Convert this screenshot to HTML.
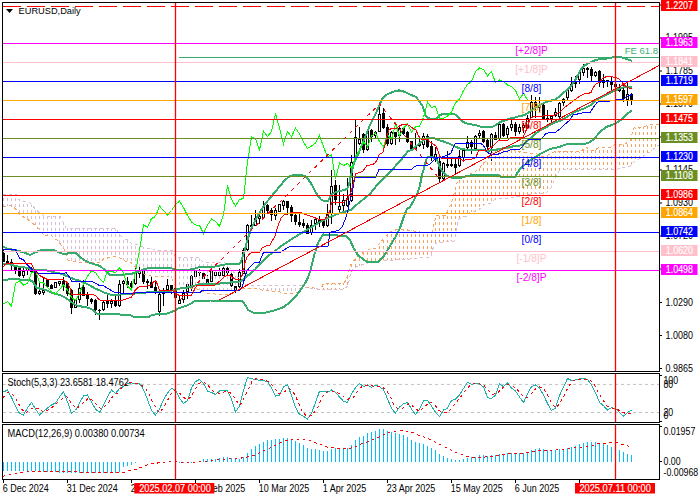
<!DOCTYPE html><html><head><meta charset="utf-8"><title>EURUSD Daily</title><style>html,body{margin:0;padding:0;background:#fff;overflow:hidden}svg{display:block}</style></head><body><svg width="700" height="500" viewBox="0 0 700 500">
<rect width="700" height="500" fill="#fff"/>
<defs><clipPath id="cm"><rect x="3" y="3" width="656" height="368"/></clipPath><clipPath id="cs"><rect x="3" y="374" width="656" height="48.5"/></clipPath><clipPath id="cd"><rect x="3" y="425" width="656" height="54"/></clipPath></defs>
<g clip-path="url(#cm)">
<g shape-rendering="crispEdges"><line x1="3.5" x2="3.5" y1="250" y2="262" stroke="#000" stroke-width="1"/><rect x="2.0" y="253" width="3" height="8.5" fill="#000"/><line x1="7.5" x2="7.5" y1="255" y2="263.5" stroke="#000" stroke-width="1"/><rect x="6.0" y="261" width="3" height="1.5" fill="#000"/><line x1="11.5" x2="11.5" y1="259" y2="270" stroke="#000" stroke-width="1"/><rect x="10.0" y="261.5" width="3" height="3.5" fill="#000"/><line x1="15.5" x2="15.5" y1="266" y2="273.5" stroke="#000" stroke-width="1"/><rect x="14.0" y="266" width="3" height="5" fill="#000"/><line x1="19.5" x2="19.5" y1="267" y2="277" stroke="#000" stroke-width="1"/><rect x="18.0" y="267" width="3" height="9" fill="#000"/><line x1="23.5" x2="23.5" y1="268" y2="277.5" stroke="#000" stroke-width="1"/><rect x="22.5" y="271.5" width="2" height="4" fill="#fff" stroke="#000" stroke-width="1"/><line x1="27.5" x2="27.5" y1="268" y2="275" stroke="#000" stroke-width="1"/><rect x="26.5" y="268.5" width="2" height="2" fill="#fff" stroke="#000" stroke-width="1"/><line x1="31.5" x2="31.5" y1="267" y2="273" stroke="#000" stroke-width="1"/><rect x="30.0" y="268" width="3" height="4" fill="#000"/><line x1="35.5" x2="35.5" y1="269" y2="295" stroke="#000" stroke-width="1"/><rect x="34.0" y="270" width="3" height="24" fill="#000"/><line x1="39.5" x2="39.5" y1="282" y2="294.5" stroke="#000" stroke-width="1"/><rect x="38.5" y="291.5" width="2" height="2" fill="#fff" stroke="#000" stroke-width="1"/><line x1="43.5" x2="43.5" y1="278" y2="295" stroke="#000" stroke-width="1"/><rect x="42.5" y="290.5" width="2" height="2" fill="#fff" stroke="#000" stroke-width="1"/><line x1="47.5" x2="47.5" y1="279" y2="288" stroke="#000" stroke-width="1"/><rect x="46.0" y="280" width="3" height="7" fill="#000"/><line x1="51.5" x2="51.5" y1="284" y2="289" stroke="#000" stroke-width="1"/><rect x="50.0" y="284.5" width="3" height="4.0" fill="#000"/><line x1="55.5" x2="55.5" y1="281.5" y2="288" stroke="#000" stroke-width="1"/><rect x="54.5" y="282.5" width="2" height="5" fill="#fff" stroke="#000" stroke-width="1"/><line x1="59.5" x2="59.5" y1="280.5" y2="285.5" stroke="#000" stroke-width="1"/><rect x="58.5" y="281.5" width="2" height="2" fill="#fff" stroke="#000" stroke-width="1"/><line x1="63.5" x2="63.5" y1="276.5" y2="290.5" stroke="#000" stroke-width="1"/><rect x="62.0" y="280.5" width="3" height="5.5" fill="#000"/><line x1="67.5" x2="67.5" y1="282" y2="296" stroke="#000" stroke-width="1"/><rect x="66.0" y="283" width="3" height="11" fill="#000"/><line x1="71.5" x2="71.5" y1="289" y2="314" stroke="#000" stroke-width="1"/><rect x="70.0" y="290" width="3" height="17.5" fill="#000"/><line x1="75.5" x2="75.5" y1="299" y2="308" stroke="#000" stroke-width="1"/><rect x="74.5" y="300.5" width="2" height="7" fill="#fff" stroke="#000" stroke-width="1"/><line x1="79.5" x2="79.5" y1="283" y2="302.5" stroke="#000" stroke-width="1"/><rect x="78.5" y="288.5" width="2" height="11" fill="#fff" stroke="#000" stroke-width="1"/><line x1="83.5" x2="83.5" y1="280" y2="296" stroke="#000" stroke-width="1"/><rect x="82.0" y="286.5" width="3" height="9.0" fill="#000"/><line x1="87.5" x2="87.5" y1="292" y2="306" stroke="#000" stroke-width="1"/><rect x="86.0" y="295" width="3" height="4" fill="#000"/><line x1="91.5" x2="91.5" y1="298" y2="303.5" stroke="#000" stroke-width="1"/><rect x="90.0" y="298.5" width="3" height="3.0" fill="#000"/><line x1="95.5" x2="95.5" y1="299" y2="314.5" stroke="#000" stroke-width="1"/><rect x="94.0" y="300" width="3" height="10" fill="#000"/><line x1="99.5" x2="99.5" y1="309" y2="320" stroke="#000" stroke-width="1"/><rect x="98.0" y="309.5" width="3" height="1.0" fill="#000"/><line x1="103.5" x2="103.5" y1="301" y2="311" stroke="#000" stroke-width="1"/><rect x="102.5" y="302.5" width="2" height="7" fill="#fff" stroke="#000" stroke-width="1"/><line x1="107.5" x2="107.5" y1="295" y2="307.5" stroke="#000" stroke-width="1"/><rect x="106.0" y="301" width="3" height="3" fill="#000"/><line x1="111.5" x2="111.5" y1="298.5" y2="307.5" stroke="#000" stroke-width="1"/><rect x="110.5" y="301.5" width="2" height="2" fill="#fff" stroke="#000" stroke-width="1"/><line x1="115.5" x2="115.5" y1="296" y2="306.5" stroke="#000" stroke-width="1"/><rect x="114.0" y="301" width="3" height="5" fill="#000"/><line x1="119.5" x2="119.5" y1="280" y2="306.5" stroke="#000" stroke-width="1"/><rect x="118.5" y="284.5" width="2" height="21" fill="#fff" stroke="#000" stroke-width="1"/><line x1="123.5" x2="123.5" y1="280" y2="293.5" stroke="#000" stroke-width="1"/><rect x="122.5" y="281.5" width="2" height="2" fill="#fff" stroke="#000" stroke-width="1"/><line x1="127.5" x2="127.5" y1="277" y2="287.5" stroke="#000" stroke-width="1"/><rect x="126.0" y="281" width="3" height="4" fill="#000"/><line x1="131.5" x2="131.5" y1="280.5" y2="290.5" stroke="#000" stroke-width="1"/><rect x="130.0" y="283" width="3" height="3.5" fill="#000"/><line x1="135.5" x2="135.5" y1="268" y2="284.5" stroke="#000" stroke-width="1"/><rect x="134.5" y="273.5" width="2" height="10" fill="#fff" stroke="#000" stroke-width="1"/><line x1="139.5" x2="139.5" y1="265" y2="278" stroke="#000" stroke-width="1"/><rect x="138.5" y="271.5" width="2" height="2" fill="#fff" stroke="#000" stroke-width="1"/><line x1="143.5" x2="143.5" y1="270" y2="283.5" stroke="#000" stroke-width="1"/><rect x="142.0" y="271" width="3" height="11" fill="#000"/><line x1="147.5" x2="147.5" y1="279" y2="288.5" stroke="#000" stroke-width="1"/><rect x="146.0" y="281" width="3" height="2" fill="#000"/><line x1="151.5" x2="151.5" y1="275.5" y2="288" stroke="#000" stroke-width="1"/><rect x="150.0" y="282" width="3" height="5.5" fill="#000"/><line x1="155.5" x2="155.5" y1="281" y2="293.5" stroke="#000" stroke-width="1"/><rect x="154.0" y="287" width="3" height="4.5" fill="#000"/><line x1="159.5" x2="159.5" y1="293" y2="315.5" stroke="#000" stroke-width="1"/><rect x="158.5" y="294.5" width="2" height="17" fill="#fff" stroke="#000" stroke-width="1"/><line x1="163.5" x2="163.5" y1="287.5" y2="305.5" stroke="#000" stroke-width="1"/><rect x="162.5" y="290.5" width="2" height="3" fill="#fff" stroke="#000" stroke-width="1"/><line x1="167.5" x2="167.5" y1="279" y2="290" stroke="#000" stroke-width="1"/><rect x="166.5" y="285.5" width="2" height="4" fill="#fff" stroke="#000" stroke-width="1"/><line x1="171.5" x2="171.5" y1="284.5" y2="293.5" stroke="#000" stroke-width="1"/><rect x="170.0" y="285" width="3" height="5" fill="#000"/><line x1="175.5" x2="175.5" y1="287" y2="298" stroke="#000" stroke-width="1"/><rect x="174.0" y="288" width="3" height="9.5" fill="#000"/><line x1="179.5" x2="179.5" y1="295" y2="304" stroke="#000" stroke-width="1"/><rect x="178.5" y="300.5" width="2" height="3" fill="#fff" stroke="#000" stroke-width="1"/><line x1="183.5" x2="183.5" y1="290" y2="302.5" stroke="#000" stroke-width="1"/><rect x="182.5" y="293.5" width="2" height="6" fill="#fff" stroke="#000" stroke-width="1"/><line x1="187.5" x2="187.5" y1="283.5" y2="298.5" stroke="#000" stroke-width="1"/><rect x="186.5" y="284.5" width="2" height="7" fill="#fff" stroke="#000" stroke-width="1"/><line x1="191.5" x2="191.5" y1="275" y2="290.5" stroke="#000" stroke-width="1"/><rect x="190.5" y="276.5" width="2" height="12" fill="#fff" stroke="#000" stroke-width="1"/><line x1="195.5" x2="195.5" y1="270" y2="279" stroke="#000" stroke-width="1"/><rect x="194.5" y="271.5" width="2" height="5" fill="#fff" stroke="#000" stroke-width="1"/><line x1="199.5" x2="199.5" y1="269" y2="276" stroke="#000" stroke-width="1"/><rect x="198.0" y="271.5" width="3" height="1.0" fill="#000"/><line x1="203.5" x2="203.5" y1="272" y2="279" stroke="#000" stroke-width="1"/><rect x="202.0" y="272.5" width="3" height="6.0" fill="#000"/><line x1="207.5" x2="207.5" y1="274.5" y2="283" stroke="#000" stroke-width="1"/><rect x="206.0" y="278.5" width="3" height="4.0" fill="#000"/><line x1="211.5" x2="211.5" y1="268.5" y2="282.5" stroke="#000" stroke-width="1"/><rect x="210.5" y="271.5" width="2" height="10" fill="#fff" stroke="#000" stroke-width="1"/><line x1="215.5" x2="215.5" y1="270" y2="279" stroke="#000" stroke-width="1"/><rect x="214.5" y="272.5" width="2" height="3" fill="#fff" stroke="#000" stroke-width="1"/><line x1="219.5" x2="219.5" y1="267.5" y2="277.5" stroke="#000" stroke-width="1"/><rect x="218.5" y="272.5" width="2" height="3" fill="#fff" stroke="#000" stroke-width="1"/><line x1="223.5" x2="223.5" y1="267" y2="277.5" stroke="#000" stroke-width="1"/><rect x="222.5" y="268.5" width="2" height="7" fill="#fff" stroke="#000" stroke-width="1"/><line x1="227.5" x2="227.5" y1="265.5" y2="274.5" stroke="#000" stroke-width="1"/><rect x="226.0" y="267.5" width="3" height="5.0" fill="#000"/><line x1="231.5" x2="231.5" y1="273" y2="287" stroke="#000" stroke-width="1"/><rect x="230.0" y="273.5" width="3" height="12.5" fill="#000"/><line x1="235.5" x2="235.5" y1="285.5" y2="292.5" stroke="#000" stroke-width="1"/><rect x="234.0" y="286" width="3" height="4" fill="#000"/><line x1="239.5" x2="239.5" y1="269" y2="287.5" stroke="#000" stroke-width="1"/><rect x="238.5" y="272.5" width="2" height="14" fill="#fff" stroke="#000" stroke-width="1"/><line x1="243.5" x2="243.5" y1="248" y2="274" stroke="#000" stroke-width="1"/><rect x="242.5" y="250.5" width="2" height="23" fill="#fff" stroke="#000" stroke-width="1"/><line x1="247.5" x2="247.5" y1="224" y2="251" stroke="#000" stroke-width="1"/><rect x="246.5" y="225.5" width="2" height="24" fill="#fff" stroke="#000" stroke-width="1"/><line x1="251.5" x2="251.5" y1="215" y2="230" stroke="#000" stroke-width="1"/><rect x="250.0" y="225" width="3" height="2" fill="#000"/><line x1="255.5" x2="255.5" y1="210" y2="226" stroke="#000" stroke-width="1"/><rect x="254.5" y="218.5" width="2" height="7" fill="#fff" stroke="#000" stroke-width="1"/><line x1="259.5" x2="259.5" y1="212" y2="223.5" stroke="#000" stroke-width="1"/><rect x="258.5" y="216.5" width="2" height="2" fill="#fff" stroke="#000" stroke-width="1"/><line x1="263.5" x2="263.5" y1="201" y2="219" stroke="#000" stroke-width="1"/><rect x="262.5" y="206.5" width="2" height="11" fill="#fff" stroke="#000" stroke-width="1"/><line x1="267.5" x2="267.5" y1="203.5" y2="212.5" stroke="#000" stroke-width="1"/><rect x="266.0" y="204.5" width="3" height="6.0" fill="#000"/><line x1="271.5" x2="271.5" y1="208" y2="220.5" stroke="#000" stroke-width="1"/><rect x="270.0" y="210" width="3" height="5" fill="#000"/><line x1="275.5" x2="275.5" y1="207.5" y2="219.5" stroke="#000" stroke-width="1"/><rect x="274.5" y="210.5" width="2" height="5" fill="#fff" stroke="#000" stroke-width="1"/><line x1="279.5" x2="279.5" y1="203.5" y2="212" stroke="#000" stroke-width="1"/><rect x="278.5" y="204.5" width="2" height="7" fill="#fff" stroke="#000" stroke-width="1"/><line x1="283.5" x2="283.5" y1="199.5" y2="209.5" stroke="#000" stroke-width="1"/><rect x="282.5" y="201.5" width="2" height="4" fill="#fff" stroke="#000" stroke-width="1"/><line x1="287.5" x2="287.5" y1="200.5" y2="214.5" stroke="#000" stroke-width="1"/><rect x="286.0" y="201" width="3" height="6.5" fill="#000"/><line x1="291.5" x2="291.5" y1="205" y2="221.5" stroke="#000" stroke-width="1"/><rect x="290.0" y="207" width="3" height="8.5" fill="#000"/><line x1="295.5" x2="295.5" y1="214" y2="224.5" stroke="#000" stroke-width="1"/><rect x="294.0" y="214.5" width="3" height="7.5" fill="#000"/><line x1="299.5" x2="299.5" y1="214" y2="226.5" stroke="#000" stroke-width="1"/><rect x="298.0" y="221.5" width="3" height="3.5" fill="#000"/><line x1="303.5" x2="303.5" y1="219" y2="227.5" stroke="#000" stroke-width="1"/><rect x="302.0" y="222.5" width="3" height="3.0" fill="#000"/><line x1="307.5" x2="307.5" y1="223" y2="234" stroke="#000" stroke-width="1"/><rect x="306.0" y="224.5" width="3" height="9.0" fill="#000"/><line x1="311.5" x2="311.5" y1="220" y2="234.5" stroke="#000" stroke-width="1"/><rect x="310.5" y="225.5" width="2" height="7" fill="#fff" stroke="#000" stroke-width="1"/><line x1="315.5" x2="315.5" y1="218" y2="229.5" stroke="#000" stroke-width="1"/><rect x="314.5" y="219.5" width="2" height="4" fill="#fff" stroke="#000" stroke-width="1"/><line x1="319.5" x2="319.5" y1="216" y2="226.5" stroke="#000" stroke-width="1"/><rect x="318.0" y="219.5" width="3" height="2.0" fill="#000"/><line x1="323.5" x2="323.5" y1="220" y2="227.5" stroke="#000" stroke-width="1"/><rect x="322.0" y="221" width="3" height="5" fill="#000"/><line x1="327.5" x2="327.5" y1="204" y2="226.5" stroke="#000" stroke-width="1"/><rect x="326.5" y="214.5" width="2" height="11" fill="#fff" stroke="#000" stroke-width="1"/><line x1="331.5" x2="331.5" y1="170" y2="223.5" stroke="#000" stroke-width="1"/><rect x="330.5" y="186.5" width="2" height="27" fill="#fff" stroke="#000" stroke-width="1"/><line x1="335.5" x2="335.5" y1="180" y2="204.5" stroke="#000" stroke-width="1"/><rect x="334.0" y="185" width="3" height="14.5" fill="#000"/><line x1="339.5" x2="339.5" y1="185" y2="211.5" stroke="#000" stroke-width="1"/><rect x="338.5" y="206.5" width="2" height="3" fill="#fff" stroke="#000" stroke-width="1"/><line x1="343.5" x2="343.5" y1="194" y2="210.5" stroke="#000" stroke-width="1"/><rect x="342.5" y="200.5" width="2" height="5" fill="#fff" stroke="#000" stroke-width="1"/><line x1="347.5" x2="347.5" y1="178" y2="207" stroke="#000" stroke-width="1"/><rect x="346.5" y="198.5" width="2" height="7" fill="#fff" stroke="#000" stroke-width="1"/><line x1="351.5" x2="351.5" y1="155" y2="202" stroke="#000" stroke-width="1"/><rect x="350.5" y="162.5" width="2" height="38" fill="#fff" stroke="#000" stroke-width="1"/><line x1="355.5" x2="355.5" y1="119.5" y2="161.5" stroke="#000" stroke-width="1"/><rect x="354.5" y="137.5" width="2" height="19" fill="#fff" stroke="#000" stroke-width="1"/><line x1="359.5" x2="359.5" y1="127" y2="144.5" stroke="#000" stroke-width="1"/><rect x="358.5" y="139.5" width="2" height="4" fill="#fff" stroke="#000" stroke-width="1"/><line x1="363.5" x2="363.5" y1="133" y2="153" stroke="#000" stroke-width="1"/><rect x="362.0" y="134" width="3" height="16" fill="#000"/><line x1="367.5" x2="367.5" y1="129" y2="151" stroke="#000" stroke-width="1"/><rect x="366.5" y="131.5" width="2" height="18" fill="#fff" stroke="#000" stroke-width="1"/><line x1="371.5" x2="371.5" y1="129" y2="141.5" stroke="#000" stroke-width="1"/><rect x="370.0" y="129.5" width="3" height="7.0" fill="#000"/><line x1="375.5" x2="375.5" y1="131" y2="138" stroke="#000" stroke-width="1"/><rect x="374.5" y="132.5" width="2" height="3" fill="#fff" stroke="#000" stroke-width="1"/><line x1="379.5" x2="379.5" y1="104.5" y2="132" stroke="#000" stroke-width="1"/><rect x="378.5" y="114.5" width="2" height="17" fill="#fff" stroke="#000" stroke-width="1"/><line x1="383.5" x2="383.5" y1="108" y2="129" stroke="#000" stroke-width="1"/><rect x="382.0" y="113" width="3" height="15" fill="#000"/><line x1="387.5" x2="387.5" y1="124" y2="145.5" stroke="#000" stroke-width="1"/><rect x="386.0" y="127" width="3" height="17" fill="#000"/><line x1="391.5" x2="391.5" y1="131" y2="144.5" stroke="#000" stroke-width="1"/><rect x="390.5" y="132.5" width="2" height="11" fill="#fff" stroke="#000" stroke-width="1"/><line x1="395.5" x2="395.5" y1="131.5" y2="144.5" stroke="#000" stroke-width="1"/><rect x="394.0" y="132" width="3" height="5" fill="#000"/><line x1="399.5" x2="399.5" y1="126" y2="141.5" stroke="#000" stroke-width="1"/><rect x="398.5" y="128.5" width="2" height="7" fill="#fff" stroke="#000" stroke-width="1"/><line x1="403.5" x2="403.5" y1="127" y2="134.5" stroke="#000" stroke-width="1"/><rect x="402.0" y="127.5" width="3" height="6.5" fill="#000"/><line x1="407.5" x2="407.5" y1="131" y2="142.5" stroke="#000" stroke-width="1"/><rect x="406.0" y="132" width="3" height="10" fill="#000"/><line x1="411.5" x2="411.5" y1="140.5" y2="149" stroke="#000" stroke-width="1"/><rect x="410.0" y="141" width="3" height="7.5" fill="#000"/><line x1="415.5" x2="415.5" y1="133" y2="150" stroke="#000" stroke-width="1"/><rect x="414.5" y="146.5" width="2" height="2" fill="#fff" stroke="#000" stroke-width="1"/><line x1="419.5" x2="419.5" y1="135.5" y2="147" stroke="#000" stroke-width="1"/><rect x="418.5" y="143.5" width="2" height="2" fill="#fff" stroke="#000" stroke-width="1"/><line x1="423.5" x2="423.5" y1="133" y2="149" stroke="#000" stroke-width="1"/><rect x="422.5" y="136.5" width="2" height="8" fill="#fff" stroke="#000" stroke-width="1"/><line x1="427.5" x2="427.5" y1="134" y2="147.5" stroke="#000" stroke-width="1"/><rect x="426.0" y="136" width="3" height="10.5" fill="#000"/><line x1="431.5" x2="431.5" y1="141" y2="160.5" stroke="#000" stroke-width="1"/><rect x="430.0" y="145.5" width="3" height="11.5" fill="#000"/><line x1="435.5" x2="435.5" y1="146.5" y2="162" stroke="#000" stroke-width="1"/><rect x="434.5" y="154.5" width="2" height="3" fill="#fff" stroke="#000" stroke-width="1"/><line x1="439.5" x2="439.5" y1="157" y2="181.5" stroke="#000" stroke-width="1"/><rect x="438.0" y="161" width="3" height="18" fill="#000"/><line x1="443.5" x2="443.5" y1="162" y2="180" stroke="#000" stroke-width="1"/><rect x="442.5" y="163.5" width="2" height="15" fill="#fff" stroke="#000" stroke-width="1"/><line x1="447.5" x2="447.5" y1="151" y2="168" stroke="#000" stroke-width="1"/><rect x="446.0" y="164" width="3" height="1.5" fill="#000"/><line x1="451.5" x2="451.5" y1="158.5" y2="167" stroke="#000" stroke-width="1"/><rect x="450.5" y="164.5" width="2" height="1" fill="#fff" stroke="#000" stroke-width="1"/><line x1="455.5" x2="455.5" y1="159" y2="173.5" stroke="#000" stroke-width="1"/><rect x="454.0" y="163.5" width="3" height="4.5" fill="#000"/><line x1="459.5" x2="459.5" y1="150" y2="166.5" stroke="#000" stroke-width="1"/><rect x="458.5" y="156.5" width="2" height="9" fill="#fff" stroke="#000" stroke-width="1"/><line x1="463.5" x2="463.5" y1="149.5" y2="160" stroke="#000" stroke-width="1"/><rect x="462.5" y="150.5" width="2" height="7" fill="#fff" stroke="#000" stroke-width="1"/><line x1="467.5" x2="467.5" y1="136" y2="149" stroke="#000" stroke-width="1"/><rect x="466.5" y="142.5" width="2" height="5" fill="#fff" stroke="#000" stroke-width="1"/><line x1="471.5" x2="471.5" y1="139.5" y2="153.5" stroke="#000" stroke-width="1"/><rect x="470.0" y="142" width="3" height="5" fill="#000"/><line x1="475.5" x2="475.5" y1="135" y2="149.5" stroke="#000" stroke-width="1"/><rect x="474.5" y="136.5" width="2" height="12" fill="#fff" stroke="#000" stroke-width="1"/><line x1="479.5" x2="479.5" y1="130" y2="138" stroke="#000" stroke-width="1"/><rect x="478.5" y="133.5" width="2" height="2" fill="#fff" stroke="#000" stroke-width="1"/><line x1="483.5" x2="483.5" y1="130" y2="143" stroke="#000" stroke-width="1"/><rect x="482.0" y="131" width="3" height="10.5" fill="#000"/><line x1="487.5" x2="487.5" y1="139" y2="148.5" stroke="#000" stroke-width="1"/><rect x="486.0" y="140" width="3" height="7" fill="#000"/><line x1="491.5" x2="491.5" y1="133" y2="160.5" stroke="#000" stroke-width="1"/><rect x="490.5" y="134.5" width="2" height="13" fill="#fff" stroke="#000" stroke-width="1"/><line x1="495.5" x2="495.5" y1="132" y2="140" stroke="#000" stroke-width="1"/><rect x="494.0" y="134.5" width="3" height="5.0" fill="#000"/><line x1="499.5" x2="499.5" y1="123" y2="139.5" stroke="#000" stroke-width="1"/><rect x="498.5" y="124.5" width="2" height="14" fill="#fff" stroke="#000" stroke-width="1"/><line x1="503.5" x2="503.5" y1="123" y2="137" stroke="#000" stroke-width="1"/><rect x="502.0" y="123.5" width="3" height="12.5" fill="#000"/><line x1="507.5" x2="507.5" y1="125.5" y2="137.5" stroke="#000" stroke-width="1"/><rect x="506.5" y="128.5" width="2" height="6" fill="#fff" stroke="#000" stroke-width="1"/><line x1="511.5" x2="511.5" y1="118" y2="130.5" stroke="#000" stroke-width="1"/><rect x="510.5" y="124.5" width="2" height="3" fill="#fff" stroke="#000" stroke-width="1"/><line x1="515.5" x2="515.5" y1="122" y2="135.5" stroke="#000" stroke-width="1"/><rect x="514.0" y="123.5" width="3" height="8.5" fill="#000"/><line x1="519.5" x2="519.5" y1="124" y2="133.5" stroke="#000" stroke-width="1"/><rect x="518.5" y="127.5" width="2" height="4" fill="#fff" stroke="#000" stroke-width="1"/><line x1="523.5" x2="523.5" y1="123" y2="132.5" stroke="#000" stroke-width="1"/><rect x="522.5" y="125.5" width="2" height="2" fill="#fff" stroke="#000" stroke-width="1"/><line x1="527.5" x2="527.5" y1="115" y2="128.5" stroke="#000" stroke-width="1"/><rect x="526.5" y="118.5" width="2" height="9" fill="#fff" stroke="#000" stroke-width="1"/><line x1="531.5" x2="531.5" y1="95" y2="118" stroke="#000" stroke-width="1"/><rect x="530.5" y="102.5" width="2" height="15" fill="#fff" stroke="#000" stroke-width="1"/><line x1="535.5" x2="535.5" y1="97" y2="117.8" stroke="#000" stroke-width="1"/><rect x="534.0" y="101.6" width="3" height="5.900000000000006" fill="#000"/><line x1="539.5" x2="539.5" y1="97" y2="112" stroke="#000" stroke-width="1"/><rect x="538.5" y="105.5" width="2" height="2" fill="#fff" stroke="#000" stroke-width="1"/><line x1="543.5" x2="543.5" y1="104" y2="119" stroke="#000" stroke-width="1"/><rect x="542.0" y="104.5" width="3" height="14.0" fill="#000"/><line x1="547.5" x2="547.5" y1="110" y2="121.5" stroke="#000" stroke-width="1"/><rect x="546.0" y="117.5" width="3" height="1.0" fill="#000"/><line x1="551.5" x2="551.5" y1="115.5" y2="123" stroke="#000" stroke-width="1"/><rect x="550.5" y="116.5" width="2" height="2" fill="#fff" stroke="#000" stroke-width="1"/><line x1="555.5" x2="555.5" y1="108" y2="116.5" stroke="#000" stroke-width="1"/><rect x="554.5" y="112.5" width="2" height="3" fill="#fff" stroke="#000" stroke-width="1"/><line x1="559.5" x2="559.5" y1="102" y2="117.5" stroke="#000" stroke-width="1"/><rect x="558.5" y="103.5" width="2" height="13" fill="#fff" stroke="#000" stroke-width="1"/><line x1="563.5" x2="563.5" y1="98" y2="106" stroke="#000" stroke-width="1"/><rect x="562.5" y="99.5" width="2" height="3" fill="#fff" stroke="#000" stroke-width="1"/><line x1="567.5" x2="567.5" y1="89" y2="101" stroke="#000" stroke-width="1"/><rect x="566.5" y="90.5" width="2" height="7" fill="#fff" stroke="#000" stroke-width="1"/><line x1="571.5" x2="571.5" y1="77" y2="91.5" stroke="#000" stroke-width="1"/><rect x="570.5" y="84.5" width="2" height="6" fill="#fff" stroke="#000" stroke-width="1"/><line x1="575.5" x2="575.5" y1="76" y2="87.5" stroke="#000" stroke-width="1"/><rect x="574.5" y="82.5" width="2" height="1" fill="#fff" stroke="#000" stroke-width="1"/><line x1="579.5" x2="579.5" y1="71" y2="83.5" stroke="#000" stroke-width="1"/><rect x="578.5" y="72.5" width="2" height="7" fill="#fff" stroke="#000" stroke-width="1"/><line x1="583.5" x2="583.5" y1="64" y2="76" stroke="#000" stroke-width="1"/><rect x="582.5" y="68.5" width="2" height="4" fill="#fff" stroke="#000" stroke-width="1"/><line x1="587.5" x2="587.5" y1="67" y2="77.5" stroke="#000" stroke-width="1"/><rect x="586.0" y="68" width="3" height="1.5" fill="#000"/><line x1="591.5" x2="591.5" y1="67" y2="81" stroke="#000" stroke-width="1"/><rect x="590.0" y="69" width="3" height="7" fill="#000"/><line x1="595.5" x2="595.5" y1="71" y2="77" stroke="#000" stroke-width="1"/><rect x="594.5" y="72.5" width="2" height="3" fill="#fff" stroke="#000" stroke-width="1"/><line x1="599.5" x2="599.5" y1="70" y2="86.5" stroke="#000" stroke-width="1"/><rect x="598.0" y="70.5" width="3" height="12.0" fill="#000"/><line x1="603.5" x2="603.5" y1="74" y2="87.5" stroke="#000" stroke-width="1"/><rect x="602.5" y="80.5" width="2" height="2" fill="#fff" stroke="#000" stroke-width="1"/><line x1="607.5" x2="607.5" y1="79.5" y2="86.5" stroke="#000" stroke-width="1"/><rect x="606.0" y="80" width="3" height="1.5" fill="#000"/><line x1="611.5" x2="611.5" y1="76" y2="90" stroke="#000" stroke-width="1"/><rect x="610.0" y="81.5" width="3" height="3.5" fill="#000"/><line x1="615.5" x2="615.5" y1="83" y2="88" stroke="#000" stroke-width="1"/><rect x="614.0" y="84" width="3" height="2.5" fill="#000"/><line x1="619.5" x2="619.5" y1="84" y2="91.5" stroke="#000" stroke-width="1"/><rect x="618.0" y="86.5" width="3" height="4.0" fill="#000"/><line x1="623.5" x2="623.5" y1="84.5" y2="101.5" stroke="#000" stroke-width="1"/><rect x="622.0" y="90" width="3" height="9" fill="#000"/><line x1="627.5" x2="627.5" y1="82" y2="105.5" stroke="#000" stroke-width="1"/><rect x="626.5" y="94.5" width="2" height="5" fill="#fff" stroke="#000" stroke-width="1"/><line x1="631.5" x2="631.5" y1="93" y2="104.5" stroke="#000" stroke-width="1"/><rect x="630.0" y="94" width="3" height="6" fill="#000"/></g>
<line x1="3.5" x2="3.5" y1="194.6" y2="206.5" stroke="#d8bfd8" stroke-width="1" stroke-dasharray="3,3" stroke-dashoffset="2.6"/><line x1="7.5" x2="7.5" y1="194.6" y2="206.0" stroke="#d8bfd8" stroke-width="1" stroke-dasharray="3,3" stroke-dashoffset="2.6"/><line x1="11.5" x2="11.5" y1="194.6" y2="206.1" stroke="#d8bfd8" stroke-width="1" stroke-dasharray="3,3" stroke-dashoffset="2.6"/><line x1="15.5" x2="15.5" y1="194.6" y2="209.0" stroke="#d8bfd8" stroke-width="1" stroke-dasharray="3,3" stroke-dashoffset="2.6"/><line x1="19.5" x2="19.5" y1="200.2" y2="214.3" stroke="#d8bfd8" stroke-width="1" stroke-dasharray="3,3" stroke-dashoffset="2.2"/><line x1="23.5" x2="23.5" y1="201.0" y2="217.0" stroke="#d8bfd8" stroke-width="1" stroke-dasharray="3,3" stroke-dashoffset="3.0"/><line x1="27.5" x2="27.5" y1="201.0" y2="219.3" stroke="#d8bfd8" stroke-width="1" stroke-dasharray="3,3" stroke-dashoffset="3.0"/><line x1="31.5" x2="31.5" y1="204.5" y2="222.4" stroke="#d8bfd8" stroke-width="1" stroke-dasharray="3,3" stroke-dashoffset="0.5"/><line x1="35.5" x2="35.5" y1="209.4" y2="225.6" stroke="#d8bfd8" stroke-width="1" stroke-dasharray="3,3" stroke-dashoffset="5.4"/><line x1="39.5" x2="39.5" y1="212.6" y2="230.2" stroke="#d8bfd8" stroke-width="1" stroke-dasharray="3,3" stroke-dashoffset="2.6"/><line x1="43.5" x2="43.5" y1="215.6" y2="235.0" stroke="#d8bfd8" stroke-width="1" stroke-dasharray="3,3" stroke-dashoffset="5.6"/><line x1="47.5" x2="47.5" y1="216.0" y2="235.8" stroke="#d8bfd8" stroke-width="1" stroke-dasharray="3,3" stroke-dashoffset="0.0"/><line x1="51.5" x2="51.5" y1="216.0" y2="236.0" stroke="#d8bfd8" stroke-width="1" stroke-dasharray="3,3" stroke-dashoffset="0.0"/><line x1="55.5" x2="55.5" y1="216.0" y2="238.9" stroke="#d8bfd8" stroke-width="1" stroke-dasharray="3,3" stroke-dashoffset="0.0"/><line x1="59.5" x2="59.5" y1="216.0" y2="243.0" stroke="#d8bfd8" stroke-width="1" stroke-dasharray="3,3" stroke-dashoffset="0.0"/><line x1="63.5" x2="63.5" y1="223.0" y2="248.3" stroke="#d8bfd8" stroke-width="1" stroke-dasharray="3,3" stroke-dashoffset="1.0"/><line x1="67.5" x2="67.5" y1="228.0" y2="258.6" stroke="#d8bfd8" stroke-width="1" stroke-dasharray="3,3" stroke-dashoffset="0.0"/><line x1="71.5" x2="71.5" y1="228.1" y2="261.1" stroke="#d8bfd8" stroke-width="1" stroke-dasharray="3,3" stroke-dashoffset="0.1"/><line x1="75.5" x2="75.5" y1="228.1" y2="261.9" stroke="#d8bfd8" stroke-width="1" stroke-dasharray="3,3" stroke-dashoffset="0.1"/><line x1="79.5" x2="79.5" y1="228.1" y2="262.4" stroke="#d8bfd8" stroke-width="1" stroke-dasharray="3,3" stroke-dashoffset="0.1"/><line x1="83.5" x2="83.5" y1="228.2" y2="262.5" stroke="#d8bfd8" stroke-width="1" stroke-dasharray="3,3" stroke-dashoffset="0.2"/><line x1="87.5" x2="87.5" y1="228.2" y2="262.5" stroke="#d8bfd8" stroke-width="1" stroke-dasharray="3,3" stroke-dashoffset="0.2"/><line x1="91.5" x2="91.5" y1="228.3" y2="262.5" stroke="#d8bfd8" stroke-width="1" stroke-dasharray="3,3" stroke-dashoffset="0.3"/><line x1="95.5" x2="95.5" y1="228.3" y2="262.5" stroke="#d8bfd8" stroke-width="1" stroke-dasharray="3,3" stroke-dashoffset="0.3"/><line x1="99.5" x2="99.5" y1="228.3" y2="262.5" stroke="#d8bfd8" stroke-width="1" stroke-dasharray="3,3" stroke-dashoffset="0.3"/><line x1="103.5" x2="103.5" y1="228.4" y2="259.0" stroke="#d8bfd8" stroke-width="1" stroke-dasharray="3,3" stroke-dashoffset="0.4"/><line x1="107.5" x2="107.5" y1="228.4" y2="258.0" stroke="#d8bfd8" stroke-width="1" stroke-dasharray="3,3" stroke-dashoffset="0.4"/><line x1="111.5" x2="111.5" y1="228.5" y2="256.5" stroke="#d8bfd8" stroke-width="1" stroke-dasharray="3,3" stroke-dashoffset="0.5"/><line x1="115.5" x2="115.5" y1="228.5" y2="256.5" stroke="#d8bfd8" stroke-width="1" stroke-dasharray="3,3" stroke-dashoffset="0.5"/><line x1="119.5" x2="119.5" y1="234.0" y2="257.9" stroke="#d8bfd8" stroke-width="1" stroke-dasharray="3,3" stroke-dashoffset="0.0"/><line x1="123.5" x2="123.5" y1="238.5" y2="260.1" stroke="#d8bfd8" stroke-width="1" stroke-dasharray="3,3" stroke-dashoffset="4.5"/><line x1="127.5" x2="127.5" y1="240.0" y2="262.1" stroke="#d8bfd8" stroke-width="1" stroke-dasharray="3,3" stroke-dashoffset="0.0"/><line x1="131.5" x2="131.5" y1="243.2" y2="263.0" stroke="#d8bfd8" stroke-width="1" stroke-dasharray="3,3" stroke-dashoffset="3.2"/><line x1="135.5" x2="135.5" y1="244.5" y2="267.2" stroke="#d8bfd8" stroke-width="1" stroke-dasharray="3,3" stroke-dashoffset="4.5"/><line x1="139.5" x2="139.5" y1="245.4" y2="271.5" stroke="#d8bfd8" stroke-width="1" stroke-dasharray="3,3" stroke-dashoffset="5.4"/><line x1="143.5" x2="143.5" y1="247.2" y2="273.8" stroke="#d8bfd8" stroke-width="1" stroke-dasharray="3,3" stroke-dashoffset="1.2"/><line x1="147.5" x2="147.5" y1="248.5" y2="275.6" stroke="#d8bfd8" stroke-width="1" stroke-dasharray="3,3" stroke-dashoffset="2.5"/><line x1="151.5" x2="151.5" y1="248.5" y2="276.1" stroke="#d8bfd8" stroke-width="1" stroke-dasharray="3,3" stroke-dashoffset="2.5"/><line x1="155.5" x2="155.5" y1="250.0" y2="276.5" stroke="#d8bfd8" stroke-width="1" stroke-dasharray="3,3" stroke-dashoffset="4.0"/><line x1="159.5" x2="159.5" y1="250.0" y2="276.5" stroke="#d8bfd8" stroke-width="1" stroke-dasharray="3,3" stroke-dashoffset="4.0"/><line x1="163.5" x2="163.5" y1="250.0" y2="276.5" stroke="#d8bfd8" stroke-width="1" stroke-dasharray="3,3" stroke-dashoffset="4.0"/><line x1="167.5" x2="167.5" y1="250.0" y2="276.6" stroke="#d8bfd8" stroke-width="1" stroke-dasharray="3,3" stroke-dashoffset="4.0"/><line x1="171.5" x2="171.5" y1="250.0" y2="278.4" stroke="#d8bfd8" stroke-width="1" stroke-dasharray="3,3" stroke-dashoffset="4.0"/><line x1="175.5" x2="175.5" y1="256.2" y2="285.8" stroke="#d8bfd8" stroke-width="1" stroke-dasharray="3,3" stroke-dashoffset="4.2"/><line x1="179.5" x2="179.5" y1="257.5" y2="288.4" stroke="#d8bfd8" stroke-width="1" stroke-dasharray="3,3" stroke-dashoffset="5.5"/><line x1="183.5" x2="183.5" y1="257.6" y2="288.5" stroke="#d8bfd8" stroke-width="1" stroke-dasharray="3,3" stroke-dashoffset="5.6"/><line x1="187.5" x2="187.5" y1="257.7" y2="288.5" stroke="#d8bfd8" stroke-width="1" stroke-dasharray="3,3" stroke-dashoffset="5.7"/><line x1="191.5" x2="191.5" y1="257.8" y2="288.7" stroke="#d8bfd8" stroke-width="1" stroke-dasharray="3,3" stroke-dashoffset="5.8"/><line x1="195.5" x2="195.5" y1="257.9" y2="288.9" stroke="#d8bfd8" stroke-width="1" stroke-dasharray="3,3" stroke-dashoffset="5.9"/><line x1="199.5" x2="199.5" y1="258.5" y2="289.8" stroke="#d8bfd8" stroke-width="1" stroke-dasharray="3,3" stroke-dashoffset="0.5"/><line x1="203.5" x2="203.5" y1="262.0" y2="291.8" stroke="#d8bfd8" stroke-width="1" stroke-dasharray="3,3" stroke-dashoffset="4.0"/><line x1="207.5" x2="207.5" y1="262.0" y2="293.0" stroke="#d8bfd8" stroke-width="1" stroke-dasharray="3,3" stroke-dashoffset="4.0"/><line x1="211.5" x2="211.5" y1="262.0" y2="293.6" stroke="#d8bfd8" stroke-width="1" stroke-dasharray="3,3" stroke-dashoffset="4.0"/><line x1="215.5" x2="215.5" y1="262.0" y2="294.1" stroke="#d8bfd8" stroke-width="1" stroke-dasharray="3,3" stroke-dashoffset="4.0"/><line x1="219.5" x2="219.5" y1="262.0" y2="294.4" stroke="#d8bfd8" stroke-width="1" stroke-dasharray="3,3" stroke-dashoffset="4.0"/><line x1="223.5" x2="223.5" y1="262.0" y2="294.3" stroke="#d8bfd8" stroke-width="1" stroke-dasharray="3,3" stroke-dashoffset="4.0"/><line x1="227.5" x2="227.5" y1="265.5" y2="294.1" stroke="#d8bfd8" stroke-width="1" stroke-dasharray="3,3" stroke-dashoffset="1.5"/><line x1="231.5" x2="231.5" y1="269.5" y2="293.2" stroke="#d8bfd8" stroke-width="1" stroke-dasharray="3,3" stroke-dashoffset="5.5"/><line x1="235.5" x2="235.5" y1="274.4" y2="291.2" stroke="#d8bfd8" stroke-width="1" stroke-dasharray="3,3" stroke-dashoffset="4.4"/><line x1="239.5" x2="239.5" y1="279.4" y2="289.2" stroke="#d8bfd8" stroke-width="1" stroke-dasharray="3,3" stroke-dashoffset="3.4"/><line x1="243.5" x2="243.5" y1="282.8" y2="288.8" stroke="#d8bfd8" stroke-width="1" stroke-dasharray="3,3" stroke-dashoffset="0.8"/><line x1="247.5" x2="247.5" y1="284.8" y2="288.6" stroke="#d8bfd8" stroke-width="1" stroke-dasharray="3,3" stroke-dashoffset="2.8"/><line x1="251.5" x2="251.5" y1="285.5" y2="288.5" stroke="#d8bfd8" stroke-width="1" stroke-dasharray="3,3" stroke-dashoffset="3.5"/><line x1="255.5" x2="255.5" y1="285.5" y2="288.5" stroke="#d8bfd8" stroke-width="1" stroke-dasharray="3,3" stroke-dashoffset="3.5"/><line x1="259.5" x2="259.5" y1="285.5" y2="289.1" stroke="#d8bfd8" stroke-width="1" stroke-dasharray="3,3" stroke-dashoffset="3.5"/><line x1="263.5" x2="263.5" y1="285.5" y2="290.2" stroke="#d8bfd8" stroke-width="1" stroke-dasharray="3,3" stroke-dashoffset="3.5"/><line x1="267.5" x2="267.5" y1="285.5" y2="290.7" stroke="#d8bfd8" stroke-width="1" stroke-dasharray="3,3" stroke-dashoffset="3.5"/><line x1="271.5" x2="271.5" y1="285.5" y2="291.1" stroke="#d8bfd8" stroke-width="1" stroke-dasharray="3,3" stroke-dashoffset="3.5"/><line x1="275.5" x2="275.5" y1="285.5" y2="291.3" stroke="#d8bfd8" stroke-width="1" stroke-dasharray="3,3" stroke-dashoffset="3.5"/><line x1="279.5" x2="279.5" y1="285.5" y2="291.9" stroke="#d8bfd8" stroke-width="1" stroke-dasharray="3,3" stroke-dashoffset="3.5"/><line x1="283.5" x2="283.5" y1="285.5" y2="293.1" stroke="#d8bfd8" stroke-width="1" stroke-dasharray="3,3" stroke-dashoffset="3.5"/><line x1="287.5" x2="287.5" y1="285.5" y2="293.6" stroke="#d8bfd8" stroke-width="1" stroke-dasharray="3,3" stroke-dashoffset="3.5"/><line x1="291.5" x2="291.5" y1="285.5" y2="293.8" stroke="#d8bfd8" stroke-width="1" stroke-dasharray="3,3" stroke-dashoffset="3.5"/><line x1="295.5" x2="295.5" y1="285.5" y2="293.1" stroke="#d8bfd8" stroke-width="1" stroke-dasharray="3,3" stroke-dashoffset="3.5"/><line x1="299.5" x2="299.5" y1="285.5" y2="291.2" stroke="#d8bfd8" stroke-width="1" stroke-dasharray="3,3" stroke-dashoffset="3.5"/><line x1="323.5" x2="323.5" y1="284.0" y2="289.9" stroke="#f4a460" stroke-width="1" stroke-dasharray="3,3" stroke-dashoffset="2.0"/><line x1="327.5" x2="327.5" y1="283.9" y2="289.8" stroke="#f4a460" stroke-width="1" stroke-dasharray="3,3" stroke-dashoffset="1.9"/><line x1="331.5" x2="331.5" y1="283.7" y2="289.6" stroke="#f4a460" stroke-width="1" stroke-dasharray="3,3" stroke-dashoffset="1.7"/><line x1="335.5" x2="335.5" y1="283.6" y2="289.4" stroke="#f4a460" stroke-width="1" stroke-dasharray="3,3" stroke-dashoffset="1.6"/><line x1="339.5" x2="339.5" y1="283.3" y2="289.2" stroke="#f4a460" stroke-width="1" stroke-dasharray="3,3" stroke-dashoffset="1.3"/><line x1="343.5" x2="343.5" y1="283.0" y2="289.0" stroke="#f4a460" stroke-width="1" stroke-dasharray="3,3" stroke-dashoffset="1.0"/><line x1="347.5" x2="347.5" y1="275.5" y2="286.4" stroke="#f4a460" stroke-width="1" stroke-dasharray="3,3" stroke-dashoffset="5.5"/><line x1="351.5" x2="351.5" y1="263.4" y2="272.0" stroke="#f4a460" stroke-width="1" stroke-dasharray="3,3" stroke-dashoffset="5.4"/><line x1="355.5" x2="355.5" y1="258.6" y2="267.1" stroke="#f4a460" stroke-width="1" stroke-dasharray="3,3" stroke-dashoffset="0.6"/><line x1="359.5" x2="359.5" y1="255.4" y2="265.8" stroke="#f4a460" stroke-width="1" stroke-dasharray="3,3" stroke-dashoffset="3.4"/><line x1="363.5" x2="363.5" y1="252.4" y2="264.2" stroke="#f4a460" stroke-width="1" stroke-dasharray="3,3" stroke-dashoffset="0.4"/><line x1="367.5" x2="367.5" y1="250.2" y2="263.2" stroke="#f4a460" stroke-width="1" stroke-dasharray="3,3" stroke-dashoffset="4.2"/><line x1="371.5" x2="371.5" y1="248.9" y2="262.3" stroke="#f4a460" stroke-width="1" stroke-dasharray="3,3" stroke-dashoffset="2.9"/><line x1="375.5" x2="375.5" y1="248.0" y2="261.4" stroke="#f4a460" stroke-width="1" stroke-dasharray="3,3" stroke-dashoffset="2.0"/><line x1="379.5" x2="379.5" y1="243.4" y2="260.5" stroke="#f4a460" stroke-width="1" stroke-dasharray="3,3" stroke-dashoffset="3.4"/><line x1="383.5" x2="383.5" y1="238.6" y2="260.3" stroke="#f4a460" stroke-width="1" stroke-dasharray="3,3" stroke-dashoffset="4.6"/><line x1="387.5" x2="387.5" y1="234.5" y2="260.2" stroke="#f4a460" stroke-width="1" stroke-dasharray="3,3" stroke-dashoffset="0.5"/><line x1="391.5" x2="391.5" y1="231.1" y2="260.1" stroke="#f4a460" stroke-width="1" stroke-dasharray="3,3" stroke-dashoffset="3.1"/><line x1="395.5" x2="395.5" y1="229.6" y2="259.9" stroke="#f4a460" stroke-width="1" stroke-dasharray="3,3" stroke-dashoffset="1.6"/><line x1="399.5" x2="399.5" y1="229.8" y2="259.7" stroke="#f4a460" stroke-width="1" stroke-dasharray="3,3" stroke-dashoffset="1.8"/><line x1="403.5" x2="403.5" y1="229.9" y2="259.4" stroke="#f4a460" stroke-width="1" stroke-dasharray="3,3" stroke-dashoffset="1.9"/><line x1="407.5" x2="407.5" y1="230.0" y2="259.2" stroke="#f4a460" stroke-width="1" stroke-dasharray="3,3" stroke-dashoffset="2.0"/><line x1="411.5" x2="411.5" y1="230.6" y2="258.8" stroke="#f4a460" stroke-width="1" stroke-dasharray="3,3" stroke-dashoffset="2.6"/><line x1="415.5" x2="415.5" y1="231.2" y2="258.4" stroke="#f4a460" stroke-width="1" stroke-dasharray="3,3" stroke-dashoffset="3.2"/><line x1="419.5" x2="419.5" y1="231.9" y2="257.9" stroke="#f4a460" stroke-width="1" stroke-dasharray="3,3" stroke-dashoffset="3.9"/><line x1="423.5" x2="423.5" y1="232.0" y2="257.5" stroke="#f4a460" stroke-width="1" stroke-dasharray="3,3" stroke-dashoffset="4.0"/><line x1="427.5" x2="427.5" y1="232.0" y2="257.2" stroke="#f4a460" stroke-width="1" stroke-dasharray="3,3" stroke-dashoffset="4.0"/><line x1="431.5" x2="431.5" y1="232.0" y2="254.5" stroke="#f4a460" stroke-width="1" stroke-dasharray="3,3" stroke-dashoffset="4.0"/><line x1="435.5" x2="435.5" y1="218.0" y2="243.7" stroke="#f4a460" stroke-width="1" stroke-dasharray="3,3" stroke-dashoffset="2.0"/><line x1="439.5" x2="439.5" y1="215.8" y2="242.3" stroke="#f4a460" stroke-width="1" stroke-dasharray="3,3" stroke-dashoffset="5.8"/><line x1="443.5" x2="443.5" y1="215.6" y2="242.0" stroke="#f4a460" stroke-width="1" stroke-dasharray="3,3" stroke-dashoffset="5.6"/><line x1="447.5" x2="447.5" y1="211.0" y2="241.6" stroke="#f4a460" stroke-width="1" stroke-dasharray="3,3" stroke-dashoffset="1.0"/><line x1="451.5" x2="451.5" y1="202.0" y2="241.2" stroke="#f4a460" stroke-width="1" stroke-dasharray="3,3" stroke-dashoffset="4.0"/><line x1="455.5" x2="455.5" y1="188.2" y2="235.8" stroke="#f4a460" stroke-width="1" stroke-dasharray="3,3" stroke-dashoffset="2.2"/><line x1="459.5" x2="459.5" y1="178.9" y2="218.8" stroke="#f4a460" stroke-width="1" stroke-dasharray="3,3" stroke-dashoffset="4.9"/><line x1="463.5" x2="463.5" y1="178.1" y2="216.9" stroke="#f4a460" stroke-width="1" stroke-dasharray="3,3" stroke-dashoffset="4.1"/><line x1="467.5" x2="467.5" y1="175.7" y2="215.8" stroke="#f4a460" stroke-width="1" stroke-dasharray="3,3" stroke-dashoffset="1.7"/><line x1="471.5" x2="471.5" y1="173.2" y2="211.8" stroke="#f4a460" stroke-width="1" stroke-dasharray="3,3" stroke-dashoffset="5.2"/><line x1="475.5" x2="475.5" y1="171.2" y2="211.3" stroke="#f4a460" stroke-width="1" stroke-dasharray="3,3" stroke-dashoffset="3.2"/><line x1="479.5" x2="479.5" y1="168.4" y2="209.1" stroke="#f4a460" stroke-width="1" stroke-dasharray="3,3" stroke-dashoffset="0.4"/><line x1="483.5" x2="483.5" y1="162.8" y2="205.1" stroke="#f4a460" stroke-width="1" stroke-dasharray="3,3" stroke-dashoffset="0.8"/><line x1="487.5" x2="487.5" y1="160.2" y2="203.4" stroke="#f4a460" stroke-width="1" stroke-dasharray="3,3" stroke-dashoffset="4.2"/><line x1="491.5" x2="491.5" y1="154.0" y2="202.5" stroke="#f4a460" stroke-width="1" stroke-dasharray="3,3" stroke-dashoffset="4.0"/><line x1="495.5" x2="495.5" y1="149.5" y2="199.6" stroke="#f4a460" stroke-width="1" stroke-dasharray="3,3" stroke-dashoffset="5.5"/><line x1="499.5" x2="499.5" y1="148.9" y2="198.5" stroke="#f4a460" stroke-width="1" stroke-dasharray="3,3" stroke-dashoffset="4.9"/><line x1="503.5" x2="503.5" y1="148.8" y2="198.3" stroke="#f4a460" stroke-width="1" stroke-dasharray="3,3" stroke-dashoffset="4.8"/><line x1="507.5" x2="507.5" y1="148.7" y2="198.1" stroke="#f4a460" stroke-width="1" stroke-dasharray="3,3" stroke-dashoffset="4.7"/><line x1="511.5" x2="511.5" y1="149.1" y2="197.7" stroke="#f4a460" stroke-width="1" stroke-dasharray="3,3" stroke-dashoffset="5.1"/><line x1="515.5" x2="515.5" y1="150.6" y2="196.9" stroke="#f4a460" stroke-width="1" stroke-dasharray="3,3" stroke-dashoffset="0.6"/><line x1="519.5" x2="519.5" y1="151.8" y2="196.1" stroke="#f4a460" stroke-width="1" stroke-dasharray="3,3" stroke-dashoffset="1.8"/><line x1="523.5" x2="523.5" y1="152.3" y2="195.4" stroke="#f4a460" stroke-width="1" stroke-dasharray="3,3" stroke-dashoffset="2.3"/><line x1="527.5" x2="527.5" y1="152.8" y2="194.8" stroke="#f4a460" stroke-width="1" stroke-dasharray="3,3" stroke-dashoffset="2.8"/><line x1="531.5" x2="531.5" y1="153.2" y2="194.3" stroke="#f4a460" stroke-width="1" stroke-dasharray="3,3" stroke-dashoffset="3.2"/><line x1="535.5" x2="535.5" y1="153.5" y2="193.9" stroke="#f4a460" stroke-width="1" stroke-dasharray="3,3" stroke-dashoffset="3.5"/><line x1="539.5" x2="539.5" y1="155.7" y2="193.8" stroke="#f4a460" stroke-width="1" stroke-dasharray="3,3" stroke-dashoffset="5.7"/><line x1="543.5" x2="543.5" y1="156.7" y2="193.6" stroke="#f4a460" stroke-width="1" stroke-dasharray="3,3" stroke-dashoffset="0.7"/><line x1="547.5" x2="547.5" y1="155.5" y2="191.5" stroke="#f4a460" stroke-width="1" stroke-dasharray="3,3" stroke-dashoffset="5.5"/><line x1="551.5" x2="551.5" y1="153.2" y2="186.6" stroke="#f4a460" stroke-width="1" stroke-dasharray="3,3" stroke-dashoffset="3.2"/><line x1="555.5" x2="555.5" y1="151.2" y2="177.5" stroke="#f4a460" stroke-width="1" stroke-dasharray="3,3" stroke-dashoffset="1.2"/><line x1="559.5" x2="559.5" y1="151.0" y2="170.3" stroke="#f4a460" stroke-width="1" stroke-dasharray="3,3" stroke-dashoffset="1.0"/><line x1="563.5" x2="563.5" y1="151.0" y2="169.5" stroke="#f4a460" stroke-width="1" stroke-dasharray="3,3" stroke-dashoffset="1.0"/><line x1="567.5" x2="567.5" y1="151.2" y2="169.4" stroke="#f4a460" stroke-width="1" stroke-dasharray="3,3" stroke-dashoffset="1.2"/><line x1="571.5" x2="571.5" y1="151.5" y2="169.3" stroke="#f4a460" stroke-width="1" stroke-dasharray="3,3" stroke-dashoffset="1.5"/><line x1="575.5" x2="575.5" y1="151.8" y2="169.1" stroke="#f4a460" stroke-width="1" stroke-dasharray="3,3" stroke-dashoffset="1.8"/><line x1="579.5" x2="579.5" y1="152.0" y2="169.0" stroke="#f4a460" stroke-width="1" stroke-dasharray="3,3" stroke-dashoffset="2.0"/><line x1="583.5" x2="583.5" y1="149.1" y2="169.0" stroke="#f4a460" stroke-width="1" stroke-dasharray="3,3" stroke-dashoffset="5.1"/><line x1="587.5" x2="587.5" y1="148.1" y2="169.0" stroke="#f4a460" stroke-width="1" stroke-dasharray="3,3" stroke-dashoffset="4.1"/><line x1="591.5" x2="591.5" y1="150.4" y2="169.0" stroke="#f4a460" stroke-width="1" stroke-dasharray="3,3" stroke-dashoffset="0.4"/><line x1="595.5" x2="595.5" y1="149.9" y2="169.0" stroke="#f4a460" stroke-width="1" stroke-dasharray="3,3" stroke-dashoffset="5.9"/><line x1="599.5" x2="599.5" y1="147.9" y2="169.0" stroke="#f4a460" stroke-width="1" stroke-dasharray="3,3" stroke-dashoffset="3.9"/><line x1="603.5" x2="603.5" y1="147.8" y2="169.0" stroke="#f4a460" stroke-width="1" stroke-dasharray="3,3" stroke-dashoffset="3.8"/><line x1="607.5" x2="607.5" y1="147.7" y2="169.0" stroke="#f4a460" stroke-width="1" stroke-dasharray="3,3" stroke-dashoffset="3.7"/><line x1="611.5" x2="611.5" y1="146.6" y2="169.0" stroke="#f4a460" stroke-width="1" stroke-dasharray="3,3" stroke-dashoffset="2.6"/><line x1="615.5" x2="615.5" y1="144.9" y2="169.0" stroke="#f4a460" stroke-width="1" stroke-dasharray="3,3" stroke-dashoffset="0.9"/><line x1="619.5" x2="619.5" y1="144.7" y2="168.6" stroke="#f4a460" stroke-width="1" stroke-dasharray="3,3" stroke-dashoffset="0.7"/><line x1="623.5" x2="623.5" y1="144.4" y2="167.6" stroke="#f4a460" stroke-width="1" stroke-dasharray="3,3" stroke-dashoffset="0.4"/><line x1="627.5" x2="627.5" y1="142.4" y2="166.6" stroke="#f4a460" stroke-width="1" stroke-dasharray="3,3" stroke-dashoffset="4.4"/><line x1="631.5" x2="631.5" y1="135.8" y2="164.5" stroke="#f4a460" stroke-width="1" stroke-dasharray="3,3" stroke-dashoffset="3.8"/><line x1="635.5" x2="635.5" y1="127.8" y2="161.1" stroke="#f4a460" stroke-width="1" stroke-dasharray="3,3" stroke-dashoffset="1.8"/><line x1="639.5" x2="639.5" y1="127.3" y2="158.6" stroke="#f4a460" stroke-width="1" stroke-dasharray="3,3" stroke-dashoffset="1.3"/><line x1="643.5" x2="643.5" y1="126.6" y2="156.1" stroke="#f4a460" stroke-width="1" stroke-dasharray="3,3" stroke-dashoffset="0.6"/><line x1="647.5" x2="647.5" y1="125.6" y2="153.6" stroke="#f4a460" stroke-width="1" stroke-dasharray="3,3" stroke-dashoffset="5.6"/><line x1="651.5" x2="651.5" y1="124.8" y2="150.8" stroke="#f4a460" stroke-width="1" stroke-dasharray="3,3" stroke-dashoffset="4.8"/><line x1="655.5" x2="655.5" y1="124.5" y2="147.4" stroke="#f4a460" stroke-width="1" stroke-dasharray="3,3" stroke-dashoffset="4.5"/>
<polyline points="3.0,206.6 10.0,205.6 14.0,207.0 20.0,215.0 28.0,219.6 36.0,226.0 44.0,235.6 52.0,236.0 58.0,241.0 64.0,249.0 68.0,260.0 73.0,261.5 80.0,262.5 100.0,262.5 103.5,259.0 107.5,258.0 111.0,256.5 117.0,256.5 121.5,259.0 127.0,262.0 131.0,262.5 134.0,265.5 137.0,269.0 140.0,272.0 147.0,275.5 155.0,276.5 167.0,276.5 171.0,277.5 173.0,281.0 175.0,285.0 177.0,288.0 180.0,288.5 188.0,288.5 197.0,289.0 200.0,290.0 205.0,292.5 210.0,293.5 220.0,294.5 230.0,294.0 236.0,291.0 240.0,289.0 250.0,288.5 258.0,288.5 262.0,290.0 270.0,291.0 278.0,291.5 283.0,293.0 290.0,294.0 296.0,293.0 300.0,291.0 303.0,288.0 308.0,287.5 314.0,288.0 318.0,289.5 321.0,289.0 323.0,284.0 336.0,283.6 344.0,283.0 346.0,280.0 348.0,274.0 351.0,264.0 356.0,258.0 364.0,252.0 370.0,249.0 375.0,248.6 379.0,244.0 384.0,238.0 390.0,232.0 394.0,229.6 408.0,230.0 420.0,232.0 432.0,232.0 434.0,224.0 436.0,216.0 443.0,215.6 445.0,215.6 447.0,212.0 450.0,206.0 453.0,198.0 455.0,190.0 457.0,183.0 459.0,179.0 464.0,178.0 470.0,174.0 476.0,171.0 480.0,168.0 483.0,163.0 487.0,161.0 490.0,156.0 493.0,152.0 496.0,149.0 510.0,148.6 514.0,150.0 518.0,151.6 524.0,152.4 530.0,153.0 536.0,153.6 540.0,156.0 545.0,157.0 550.0,154.0 556.0,151.0 566.0,151.0 572.0,151.6 580.0,152.0 586.0,147.0 590.0,150.0 594.0,151.0 598.0,148.0 610.0,147.6 614.0,145.0 624.0,144.4 630.0,141.0 632.0,134.0 634.0,128.0 642.0,127.0 650.0,125.0 656.0,124.4 659.0,124.0" fill="none" stroke="#f4a460" stroke-width="1" stroke-dasharray="3,3" shape-rendering="crispEdges" />
<polyline points="3.0,194.6 16.0,194.6 20.0,201.0 28.0,201.0 32.0,205.0 36.0,210.0 40.0,213.0 44.0,216.0 60.0,216.0 63.0,222.0 66.0,228.0 116.0,228.5 119.5,234.0 123.5,238.5 127.5,240.0 131.0,243.0 135.5,244.5 140.0,245.5 143.0,247.0 147.0,248.5 152.0,248.5 155.0,250.0 172.0,250.0 175.0,256.0 178.0,257.5 199.0,258.0 203.0,262.0 224.0,262.0 228.0,266.0 232.0,270.0 236.0,275.0 240.0,280.0 245.0,284.0 250.0,285.5 300.0,285.5 305.0,287.0 310.0,288.0 315.0,288.0 320.0,290.0 322.0,290.0 344.0,289.0 348.0,286.0 350.0,276.0 353.0,268.0 360.0,265.6 364.0,264.0 380.0,260.4 394.0,260.0 410.0,259.0 422.0,257.6 431.0,257.0 432.4,250.0 435.0,244.0 438.0,242.4 448.0,241.6 454.0,241.0 456.0,234.0 457.0,226.0 459.0,219.0 463.0,217.0 467.0,216.6 470.0,212.0 478.0,211.0 482.0,206.0 486.0,203.6 491.0,203.0 494.0,200.0 500.0,198.4 510.0,198.0 518.0,196.4 526.0,195.0 534.0,194.0 544.0,193.6 550.0,190.0 554.0,181.0 557.0,174.0 560.0,169.6 580.0,169.0 618.0,169.0 630.0,166.0 634.0,162.0 642.0,157.0 650.0,152.0 656.0,147.0 659.0,145.0" fill="none" stroke="#d8bfd8" stroke-width="1" stroke-dasharray="3,3" shape-rendering="crispEdges" />
<polyline points="3.0,246.5 8.0,249.0 15.0,250.0 24.0,252.5 30.0,255.0 35.0,252.5 40.0,250.5 50.0,249.5 55.0,250.5 60.0,253.0 65.0,254.5 70.0,252.5 76.0,252.5 80.0,257.0 85.0,260.5 90.0,263.0 95.0,264.5 100.0,266.0 105.0,270.0 107.0,272.0 110.0,275.0 115.0,275.5 120.0,275.0 125.0,274.5 130.0,274.0 135.0,273.0 140.0,271.0 143.0,269.5 147.0,268.5 153.0,268.0 160.0,268.5 165.0,268.0 170.0,268.0 175.0,269.5 180.0,270.0 185.0,270.0 190.0,269.5 195.0,268.5 198.0,267.5 201.0,267.0 210.0,266.5 215.0,266.5 220.0,265.5 225.0,264.5 230.0,263.5 240.0,263.5 241.0,262.0 243.0,255.0 245.0,250.0 246.0,245.0 248.0,238.0 250.0,232.0 253.0,225.0 256.0,219.0 260.0,212.0 263.0,207.0 266.0,203.0 270.0,198.0 275.0,192.0 280.0,186.0 285.0,180.0 290.0,176.0 295.0,175.0 300.0,175.0 305.0,176.0 308.0,179.0 312.0,185.0 315.0,191.0 318.0,196.0 321.0,199.5 324.0,201.0 328.0,201.0 330.0,197.0 332.0,194.0 336.0,192.0 340.0,191.0 344.0,190.0 347.0,189.0 349.0,185.0 351.0,175.0 354.0,163.0 358.0,155.0 361.0,147.0 364.0,140.0 366.0,135.0 370.0,125.0 373.0,119.0 376.0,113.0 379.0,106.0 382.0,99.0 386.0,95.0 390.0,93.0 394.0,91.6 399.0,90.4 404.0,91.6 410.0,94.4 416.0,97.0 419.0,101.0 422.0,105.0 424.0,110.0 425.5,115.0 428.0,118.0 432.0,119.0 436.0,118.5 438.0,117.0 440.0,115.0 445.0,113.5 452.0,113.5 456.0,115.0 460.0,119.0 463.0,122.0 467.0,123.5 475.0,125.0 480.0,126.5 487.0,127.5 492.0,127.0 495.0,125.5 500.0,122.0 505.0,120.5 510.0,118.5 515.0,117.5 520.0,116.0 525.0,115.0 530.0,111.5 535.0,108.0 540.0,105.0 545.0,102.5 550.0,101.0 555.0,99.5 560.0,96.0 565.0,91.5 568.0,89.0 571.0,86.0 574.0,82.0 576.5,77.5 579.0,73.0 581.0,69.0 584.0,66.0 587.0,64.0 591.0,62.0 595.0,60.3 600.0,59.0 607.0,58.5 612.0,57.5 615.0,56.5 620.0,57.0 625.0,58.5 628.0,59.5 632.0,61.0" fill="none" stroke="#36ac6c" stroke-width="2" shape-rendering="crispEdges" stroke-linejoin="round"/>
<polyline points="3.0,264.5 7.0,263.5 15.0,266.0 25.0,267.5 33.0,269.5 40.0,270.0 47.0,270.5 55.0,272.5 62.0,274.0 70.0,277.5 75.0,279.5 80.0,281.0 85.0,283.0 90.0,285.5 95.0,288.5 100.0,290.5 105.0,293.0 110.0,294.5 120.0,294.5 130.0,294.0 135.0,293.5 140.0,293.0 152.0,292.0 170.0,291.5 172.0,290.5 175.0,290.0 180.0,288.5 185.0,288.0 190.0,287.0 195.0,285.5 198.0,284.5 205.0,284.0 215.0,284.0 220.0,283.5 225.0,283.0 230.0,282.5 237.0,282.0 241.0,281.0 245.0,278.5 247.0,276.0 250.0,274.0 255.0,269.5 260.0,264.0 265.0,259.0 270.0,254.5 275.0,251.0 280.0,247.0 290.0,240.0 300.0,234.0 310.0,228.0 320.0,222.0 330.0,217.0 340.0,213.0 351.0,210.0 355.0,206.0 360.0,202.0 365.0,198.0 370.0,194.0 377.0,185.0 380.0,182.0 385.0,177.0 390.0,172.0 395.0,166.5 400.0,161.0 405.0,155.0 408.0,151.0 412.0,150.0 415.0,147.0 420.0,143.0 425.0,139.0 428.0,137.5 432.0,137.5 436.0,139.0 440.0,140.5 445.0,142.0 450.0,144.0 455.0,146.5 460.0,148.5 465.0,149.5 470.0,150.0 475.0,150.0 480.0,149.5 485.0,150.5 490.0,150.5 495.0,150.0 500.0,149.0 505.0,148.0 510.0,147.0 515.0,146.0 520.0,145.5 523.0,145.0 527.0,141.0 531.0,138.0 535.0,134.0 540.0,130.5 545.0,128.0 550.0,125.0 555.0,122.5 560.0,121.0 565.0,118.0 570.0,115.0 575.0,112.0 580.0,110.0 585.0,108.0 591.0,105.0 595.0,101.0 600.0,98.0 605.0,95.5 610.0,93.0 615.0,90.5 620.0,88.5 625.0,87.0 628.0,86.5 632.0,86.5" fill="none" stroke="#36ac6c" stroke-width="2" shape-rendering="crispEdges" stroke-linejoin="round"/>
<polyline points="3.0,280.5 10.0,279.0 20.0,279.5 30.0,280.0 33.0,282.0 37.0,288.0 42.0,289.0 47.0,290.5 52.0,293.0 57.0,294.0 62.0,296.0 66.0,298.0 70.0,301.0 74.0,304.0 78.0,306.0 85.0,307.0 90.0,308.5 93.0,310.0 97.0,313.5 100.0,314.5 105.0,314.0 110.0,313.5 120.0,314.5 130.0,315.0 133.0,316.5 137.0,317.0 149.0,317.0 151.0,315.5 155.0,314.5 160.0,313.5 167.0,313.5 170.0,312.5 175.0,310.5 178.0,308.5 183.0,307.0 187.0,305.5 191.0,303.5 194.0,301.5 197.0,300.5 210.0,300.5 230.0,301.0 242.0,300.5 246.0,306.0 248.0,310.0 253.0,312.6 266.0,312.6 276.0,310.0 284.0,307.0 290.0,302.0 296.0,296.0 302.0,288.0 307.0,280.0 310.0,272.0 314.0,256.0 318.0,243.0 323.0,234.4 330.0,235.0 346.0,236.0 350.0,240.0 354.0,249.0 358.0,255.0 364.0,260.0 368.0,262.4 378.0,262.0 384.0,256.0 390.0,246.0 396.0,236.0 400.0,228.0 404.0,216.0 407.0,209.0 410.0,207.0 414.0,200.0 418.0,192.0 420.0,185.0 422.0,175.0 424.0,168.0 426.0,160.0 427.5,157.5 432.0,157.0 436.0,158.5 438.0,162.0 440.0,168.0 443.0,172.0 446.0,175.0 450.0,177.3 453.0,178.2 458.0,178.2 462.0,177.4 466.0,176.2 470.0,175.5 480.0,175.3 490.0,175.2 499.0,175.5 501.0,177.2 510.0,177.4 515.0,177.4 517.0,173.5 520.0,169.0 524.0,165.5 527.0,162.5 530.0,160.5 534.0,158.0 538.0,155.5 542.0,153.0 546.0,151.0 550.0,149.0 554.0,148.0 558.0,147.3 562.0,146.0 566.0,144.5 576.0,144.4 584.0,144.4 590.0,142.0 594.0,139.0 600.0,132.0 606.0,127.0 612.0,125.0 618.0,122.0 622.0,119.0 626.0,115.0 629.0,112.5 632.0,110.5" fill="none" stroke="#36ac6c" stroke-width="2" shape-rendering="crispEdges" stroke-linejoin="round"/>
<polyline points="3.5,304.0 7.5,301.5 11.5,306.0 15.5,283.5 19.5,281.0 23.5,285.0 27.5,283.2 31.5,273.0 35.5,271.0 39.5,282.0 43.5,283.0 47.5,287.5 51.5,291.5 55.5,294.0 59.5,289.5 63.5,285.0 67.5,290.0 71.5,297.5 75.5,300.5 79.5,293.0 83.5,284.0 87.5,276.0 91.5,271.0 95.5,272.5 99.5,278.5 103.5,282.5 107.5,271.0 111.5,271.5 115.5,272.5 119.5,268.0 123.5,272.5 127.5,286.0 131.5,290.0 135.5,272.0 139.5,250.0 143.5,225.0 147.5,227.0 151.5,218.5 155.5,216.5 159.5,206.0 163.5,210.5 167.5,215.0 171.5,210.5 175.5,204.5 179.5,201.0 183.5,207.5 187.5,215.5 191.5,222.0 195.5,225.0 199.5,225.5 203.5,233.5 207.5,225.0 211.5,219.0 215.5,221.5 219.5,226.0 223.5,214.5 227.5,185.5 231.5,199.5 235.5,206.0 239.5,199.5 243.5,198.5 247.5,162.0 251.5,137.0 255.5,139.0 259.5,150.0 263.5,131.0 267.5,136.5 271.5,131.5 275.5,113.5 279.5,128.0 283.5,144.0 287.5,131.5 291.5,137.0 295.5,128.0 299.5,134.0 303.5,142.0 307.5,148.5 311.5,146.0 315.5,143.0 319.5,135.5 323.5,146.5 327.5,157.0 331.5,154.5 335.5,179.0 339.5,163.0 343.5,165.5 347.5,163.5 351.5,168.0 355.5,156.5 359.5,150.0 363.5,141.5 367.5,147.0 371.5,136.0 375.5,133.0 379.5,141.5 383.5,147.0 387.5,134.5 391.5,139.5 395.5,124.0 399.5,136.0 403.5,128.0 407.5,124.0 411.5,132.0 415.5,127.0 419.5,126.0 423.5,117.5 427.5,102.0 431.5,107.5 435.5,106.3 439.5,118.5 443.5,118.5 447.5,116.0 451.5,112.0 455.5,103.0 459.5,99.0 463.5,90.5 467.5,84.5 471.5,81.5 475.5,71.5 479.5,68.0 483.5,69.5 487.5,76.0 491.5,71.5 495.5,82.5 499.5,80.0 503.5,81.5 507.5,85.0 511.5,86.5 515.5,90.5 519.5,99.0 523.5,93.5 527.5,100.0" fill="none" stroke="#00ff00" stroke-width="1" shape-rendering="crispEdges" />
<polyline points="3.0,249.5 15.5,249.5 19.5,258.0 23.5,260.0 27.5,265.0 31.5,269.0 35.5,272.0 39.5,273.5 63.5,273.5 66.0,272.5 70.0,278.0 72.0,281.5 87.0,281.5 93.0,282.0 99.5,285.5 104.0,286.0 108.0,288.5 112.0,291.0 115.0,292.5 120.0,293.0 135.0,293.0 140.0,292.5 200.0,292.5 202.0,290.5 239.5,290.5 241.5,288.0 243.5,283.0 245.0,276.0 247.0,271.0 250.0,267.0 253.0,264.0 255.0,262.5 259.5,262.5 261.0,258.0 263.5,252.5 280.0,252.5 284.0,250.0 287.0,248.0 290.0,246.5 328.0,246.5 329.0,239.0 330.0,233.0 331.5,231.3 336.0,231.0 339.0,230.0 342.0,227.0 345.0,220.0 348.0,210.0 350.0,201.0 352.0,193.0 353.5,185.0 355.0,177.5 375.5,177.5 377.0,174.0 379.0,169.5 411.5,169.5 414.0,167.0 417.0,165.5 427.0,165.5 430.0,164.0 433.0,161.0 436.0,158.5 440.0,157.5 444.0,156.5 448.0,155.0 451.0,153.0 453.0,148.0 455.0,144.0 456.0,143.5 481.0,143.5 483.0,145.0 485.0,148.0 487.0,152.0 489.0,153.5 492.0,154.5 497.0,154.5 500.0,153.5 503.0,152.0 508.0,151.0 512.0,149.0 520.0,149.0 522.0,147.0 525.0,143.0 528.0,140.0 532.0,139.5 540.0,139.5 543.0,137.0 546.0,133.3 556.0,132.0 560.0,129.0 564.0,125.0 570.0,120.0 573.0,115.0 582.0,113.0 590.0,112.4 593.0,108.0 595.0,105.0 597.0,102.5 599.0,101.5 608.0,101.5 617.0,99.5 623.0,99.5 626.0,97.5 629.0,95.5 632.0,94.5" fill="none" stroke="#0000ff" stroke-width="1" shape-rendering="crispEdges" />
<polyline points="3.0,267.0 5.0,264.5 7.0,263.5 31.5,263.5 33.0,267.0 35.5,271.5 39.5,275.5 43.5,277.5 47.5,279.5 63.5,279.5 67.5,283.0 70.0,288.0 71.0,293.0 72.0,294.5 93.0,294.5 96.0,296.0 99.0,299.5 101.0,300.5 122.0,300.5 126.0,299.0 131.0,297.5 133.0,294.5 135.0,290.5 138.0,287.5 140.0,286.5 145.0,286.5 149.0,285.5 151.0,285.0 153.0,282.5 155.5,280.5 157.0,283.5 159.0,289.0 160.0,290.5 172.0,290.5 175.0,292.0 177.0,294.5 180.0,295.5 184.0,296.0 187.0,295.5 191.0,295.5 193.0,293.0 195.0,288.0 197.0,285.5 200.0,285.5 214.0,285.5 217.0,283.5 221.0,280.0 224.0,277.0 227.0,275.5 230.0,275.5 232.0,277.0 235.0,279.0 238.0,279.5 240.0,279.0 242.0,275.5 244.0,268.0 245.0,262.5 247.0,257.0 250.0,253.5 253.0,252.0 260.0,252.0 262.0,248.0 266.0,246.0 270.0,245.0 275.0,236.0 278.0,226.0 281.0,218.0 284.0,215.0 290.0,213.0 298.0,212.5 302.0,213.0 307.0,215.0 313.0,217.0 318.0,219.0 325.0,219.0 328.0,215.0 330.0,210.0 331.5,202.5 343.5,202.5 345.0,201.0 347.0,199.5 349.0,196.0 351.0,192.0 353.0,184.0 354.5,178.0 355.5,173.5 360.0,172.5 363.0,171.0 365.0,168.0 367.0,165.5 370.0,165.0 373.0,164.5 375.0,163.0 377.0,160.0 379.0,155.0 381.0,153.5 383.0,152.5 384.0,148.0 385.0,145.0 387.0,136.0 389.0,130.0 392.0,128.0 397.0,128.0 400.0,125.5 403.0,124.5 407.0,124.5 410.0,126.0 413.0,128.5 416.0,130.0 418.0,135.0 420.0,138.0 422.0,139.5 428.0,139.5 430.0,142.0 433.0,144.0 436.0,146.0 438.0,151.0 440.0,156.5 442.0,158.5 459.5,158.5 461.0,159.5 463.5,161.0 465.0,160.0 468.0,159.5 472.0,159.0 474.0,158.5 476.0,157.0 478.0,152.0 479.0,150.5 485.0,150.5 487.0,150.0 490.0,148.0 493.0,146.0 496.0,143.0 498.0,141.0 500.0,140.5 508.0,140.0 510.0,138.0 512.0,137.5 518.0,137.5 523.0,137.0 525.0,133.0 527.0,128.0 529.0,122.0 531.0,118.0 533.0,117.0 541.0,116.5 545.0,115.5 550.0,115.5 555.0,115.0 558.0,113.0 560.0,112.0 564.0,108.0 568.0,105.0 572.0,102.0 576.0,99.0 580.0,96.0 584.0,94.0 588.0,93.5 591.0,92.5 593.0,88.0 595.0,85.0 597.0,83.5 600.0,82.0 602.0,79.0 604.0,77.5 607.0,76.5 610.0,76.5 613.0,77.0 616.0,77.5 619.0,79.0 621.0,81.0 623.0,83.5 625.0,85.5 627.0,87.0 629.0,88.0 632.0,88.5" fill="none" stroke="#ff0000" stroke-width="1" shape-rendering="crispEdges" />
<line x1="3" x2="659" y1="43.5" y2="43.5" stroke="#ff00ff" stroke-width="1" shape-rendering="crispEdges"/>
<line x1="3" x2="659" y1="62.5" y2="62.5" stroke="#ffc0cb" stroke-width="1" shape-rendering="crispEdges"/>
<line x1="3" x2="659" y1="81.5" y2="81.5" stroke="#0000ff" stroke-width="1" shape-rendering="crispEdges"/>
<line x1="3" x2="659" y1="100.5" y2="100.5" stroke="#ffa500" stroke-width="1" shape-rendering="crispEdges"/>
<line x1="3" x2="659" y1="119.5" y2="119.5" stroke="#ff0000" stroke-width="1" shape-rendering="crispEdges"/>
<line x1="3" x2="659" y1="138.5" y2="138.5" stroke="#6b8e23" stroke-width="1" shape-rendering="crispEdges"/>
<line x1="3" x2="659" y1="157.5" y2="157.5" stroke="#0000ff" stroke-width="1" shape-rendering="crispEdges"/>
<line x1="3" x2="659" y1="176.5" y2="176.5" stroke="#6b8e23" stroke-width="1" shape-rendering="crispEdges"/>
<line x1="3" x2="659" y1="195.5" y2="195.5" stroke="#ff0000" stroke-width="1" shape-rendering="crispEdges"/>
<line x1="3" x2="659" y1="213.5" y2="213.5" stroke="#ffa500" stroke-width="1" shape-rendering="crispEdges"/>
<line x1="3" x2="659" y1="232.5" y2="232.5" stroke="#0000ff" stroke-width="1" shape-rendering="crispEdges"/>
<line x1="3" x2="659" y1="251.5" y2="251.5" stroke="#ffc0cb" stroke-width="1" shape-rendering="crispEdges"/>
<line x1="3" x2="659" y1="270.5" y2="270.5" stroke="#ff00ff" stroke-width="1" shape-rendering="crispEdges"/>
<line x1="3" x2="659" y1="6.5" y2="6.5" stroke="#ff0000" stroke-width="1" stroke-dasharray="18,6" shape-rendering="crispEdges"/>
<line x1="179" x2="659" y1="57.5" y2="57.5" stroke="#37aa69" stroke-width="1" shape-rendering="crispEdges"/>
<text x="658" y="54" font-size="9.5" fill="#3cb371" text-anchor="end" font-family="Liberation Sans, sans-serif">FE 61.8</text>
<line x1="219" y1="300.2" x2="659" y2="65.6" stroke="#ff0000" stroke-width="1" shape-rendering="crispEdges"/>
<polyline points="180,300 379.5,104 439.5,179" fill="none" stroke="#ff0000" stroke-width="1" stroke-dasharray="3.6,4.6" shape-rendering="crispEdges"/>
<text x="531.5" y="53.7" font-size="10.2" fill="#ff00ff" text-anchor="middle" font-family="Liberation Sans, sans-serif">[+2/8]P</text>
<text x="531.5" y="72.6" font-size="10.2" fill="#ffc0cb" text-anchor="middle" font-family="Liberation Sans, sans-serif">[+1/8]P</text>
<text x="531.5" y="91.5" font-size="10.2" fill="#0000ff" text-anchor="middle" font-family="Liberation Sans, sans-serif">[8/8]</text>
<text x="531.5" y="110.5" font-size="10.2" fill="#ffa500" text-anchor="middle" font-family="Liberation Sans, sans-serif">[7/8]</text>
<text x="531.5" y="129.4" font-size="10.2" fill="#ff0000" text-anchor="middle" font-family="Liberation Sans, sans-serif">[6/8]</text>
<text x="531.5" y="148.3" font-size="10.2" fill="#6b8e23" text-anchor="middle" font-family="Liberation Sans, sans-serif">[5/8]</text>
<text x="531.5" y="167.2" font-size="10.2" fill="#0000ff" text-anchor="middle" font-family="Liberation Sans, sans-serif">[4/8]</text>
<text x="531.5" y="186.1" font-size="10.2" fill="#6b8e23" text-anchor="middle" font-family="Liberation Sans, sans-serif">[3/8]</text>
<text x="531.5" y="205.0" font-size="10.2" fill="#ff0000" text-anchor="middle" font-family="Liberation Sans, sans-serif">[2/8]</text>
<text x="531.5" y="223.9" font-size="10.2" fill="#ffa500" text-anchor="middle" font-family="Liberation Sans, sans-serif">[1/8]</text>
<text x="531.5" y="242.9" font-size="10.2" fill="#0000ff" text-anchor="middle" font-family="Liberation Sans, sans-serif">[0/8]</text>
<text x="531.5" y="261.8" font-size="10.2" fill="#ffc0cb" text-anchor="middle" font-family="Liberation Sans, sans-serif">[-1/8]P</text>
<text x="531.5" y="280.7" font-size="10.2" fill="#ff00ff" text-anchor="middle" font-family="Liberation Sans, sans-serif">[-2/8]P</text>
<line x1="175.5" x2="175.5" y1="3" y2="371" stroke="#ff0000" stroke-width="1.3"/>
<line x1="615.5" x2="615.5" y1="3" y2="371" stroke="#ff0000" stroke-width="1.3"/>
</g>
<text transform="translate(18.6,13.5) scale(0.934,1)" font-size="9.9" fill="#000"  font-family="Liberation Sans, sans-serif">EURUSD,Daily</text>
<path d="M6 9 L13 9 L9.5 13 Z" fill="#000"/>
<g clip-path="url(#cs)">
<line x1="3" x2="659" y1="384.4" y2="384.4" stroke="#c0c0c0" stroke-width="1" stroke-dasharray="3,3"/>
<line x1="3" x2="659" y1="412.5" y2="412.5" stroke="#c0c0c0" stroke-width="1" stroke-dasharray="3,3"/>
<polyline points="3.5,392.0 7.5,390.0 11.5,397.5 15.5,406.0 19.5,413.5 23.5,415.0 27.5,408.0 31.5,402.5 35.5,409.0 39.5,415.0 43.5,411.5 47.5,408.0 51.5,405.0 55.5,403.0 59.5,397.0 63.5,391.5 67.5,402.0 71.5,413.0 75.5,410.5 79.5,403.0 83.5,396.0 87.5,395.0 91.5,402.0 95.5,409.0 99.5,412.5 103.5,405.0 107.5,397.0 111.5,390.0 115.5,393.5 119.5,388.5 123.5,386.5 127.5,383.5 131.5,383.0 135.5,383.4 139.5,383.7 143.5,389.5 147.5,399.5 151.5,410.5 155.5,415.0 159.5,409.0 163.5,399.5 167.5,393.0 171.5,388.5 175.5,390.0 179.5,398.0 183.5,403.5 187.5,400.5 191.5,388.0 195.5,381.5 199.5,379.5 203.5,383.5 207.5,391.0 211.5,392.5 215.5,394.5 219.5,391.0 223.5,390.8 227.5,390.5 231.5,399.5 235.5,412.0 239.5,406.0 243.5,390.5 247.5,377.5 251.5,378.8 255.5,379.5 259.5,380.2 263.5,380.8 267.5,381.4 271.5,388.0 275.5,396.3 279.5,395.0 283.5,386.8 287.5,385.0 291.5,395.3 295.5,407.5 299.5,414.2 303.5,416.3 307.5,419.0 311.5,413.0 315.5,402.7 319.5,391.2 323.5,391.2 327.5,392.2 331.5,390.0 335.5,392.3 339.5,397.0 343.5,401.3 347.5,402.3 351.5,394.0 355.5,387.6 359.5,383.5 363.5,386.6 367.5,385.0 371.5,387.3 375.5,385.2 379.5,386.8 383.5,389.5 387.5,398.8 391.5,408.5 395.5,413.0 399.5,407.0 403.5,403.8 407.5,402.6 411.5,409.0 415.5,414.5 419.5,409.0 423.5,401.0 427.5,400.3 431.5,406.0 435.5,412.4 439.5,416.5 443.5,410.0 447.5,408.2 451.5,400.5 455.5,399.0 459.5,395.0 463.5,388.5 467.5,382.5 471.5,384.3 475.5,383.3 479.5,384.0 483.5,387.0 487.5,397.5 491.5,398.6 495.5,395.0 499.5,384.0 503.5,386.6 507.5,383.0 511.5,388.0 515.5,391.0 519.5,397.0 523.5,402.5 527.5,394.0 531.5,386.5 535.5,385.0 539.5,388.0 543.5,395.2 547.5,403.5 551.5,410.5 555.5,408.0 559.5,395.5 563.5,387.0 567.5,378.5 571.5,380.5 575.5,380.0 579.5,379.0 583.5,378.2 587.5,379.4 591.5,385.0 595.5,392.6 599.5,402.5 603.5,405.7 607.5,410.1 611.5,407.7 615.5,408.5 619.5,412.3 623.5,416.2 627.5,412.5 631.5,410.2" fill="none" stroke="#20b2aa" stroke-width="1" shape-rendering="crispEdges" />
<polyline points="2.6,397.7 7.7,392.6 12.0,393.4 16.3,399.4 21.4,408.9 25.7,413.1 32.6,408.0 37.7,408.0 43.7,412.3 51.4,408.0 58.3,402.0 66.0,396.0 72.0,403.7 76.3,408.9 82.3,403.7 89.1,397.7 96.0,403.7 101.1,408.9 107.1,404.6 113.1,396.0 118.3,392.6 120.0,389.1 125.1,384.9 130.3,382.6 138.9,383.7 144.9,387.4 149.1,394.3 153.4,403.7 158.6,412.3 162.9,408.9 167.1,401.1 171.4,393.4 174.9,390.0 180.9,394.3 186.0,399.4 190.3,397.7 194.6,390.0 198.9,383.7 203.1,381.4 208.3,385.7 213.4,391.7 219.4,393.4 226.3,391.2 231.4,393.4 236.6,401.1 240.0,405.4 244.3,397.7 248.6,389.1 252.0,381.4 256.3,378.5 262.3,379.7 268.3,381.4 273.4,386.6 278.6,393.4 283.7,392.6 288.9,388.3 293.1,391.7 297.4,400.3 301.7,410.6 306.0,415.7 309.4,416.6 313.7,413.1 318.0,407.1 322.3,396.9 327.4,391.7 334.3,391.2 341.1,394.3 347.1,399.4 353.1,397.7 357.4,391.7 360.0,388.3 363.0,385.7 366.9,385.4 373.7,386.1 380.6,386.6 385.7,389.1 390.0,396.0 393.4,403.7 396.9,408.0 402.9,408.0 408.9,403.7 414.0,407.1 419.1,411.4 425.1,406.3 430.3,402.0 434.6,404.6 438.9,410.6 444.0,413.1 449.1,411.4 454.3,404.6 459.4,398.6 464.6,391.7 469.7,385.7 474.9,383.1 480.0,384.0 483.4,384.9 487.7,390.0 492.0,394.3 497.1,393.4 502.3,388.3 507.4,384.3 512.6,385.7 516.9,389.1 522.0,395.1 527.1,397.7 532.3,392.6 537.4,386.6 542.6,387.4 546.9,393.4 551.1,402.0 555.4,408.0 559.7,403.7 564.0,396.0 568.3,386.6 573.4,380.6 581.1,379.7 588.0,379.2 593.1,382.6 597.4,390.9 598.9,393.4 603.1,400.3 607.4,406.3 611.7,408.0 616.9,408.9 622.0,412.3 626.3,413.5 630.6,413.1" fill="none" stroke="#ff0000" stroke-width="1" stroke-dasharray="2.7,3.3" shape-rendering="crispEdges" />
<line x1="175.5" x2="175.5" y1="373" y2="422" stroke="#ff0000" stroke-width="1.3"/>
<line x1="615.5" x2="615.5" y1="373" y2="422" stroke="#ff0000" stroke-width="1.3"/>
</g>
<text transform="translate(7.5,385.9) scale(0.866,1)" font-size="10.6" fill="#000"  font-family="Liberation Sans, sans-serif">Stoch(5,3,3) 23.6581 18.4762</text>
<g clip-path="url(#cd)">
<line x1="3.5" x2="3.5" y1="461.9" y2="471" stroke="#00bfff" stroke-width="1" shape-rendering="crispEdges"/><line x1="7.5" x2="7.5" y1="461.9" y2="470.5" stroke="#00bfff" stroke-width="1" shape-rendering="crispEdges"/><line x1="11.5" x2="11.5" y1="461.9" y2="470.5" stroke="#00bfff" stroke-width="1" shape-rendering="crispEdges"/><line x1="15.5" x2="15.5" y1="461.9" y2="470.5" stroke="#00bfff" stroke-width="1" shape-rendering="crispEdges"/><line x1="19.5" x2="19.5" y1="461.9" y2="470.5" stroke="#00bfff" stroke-width="1" shape-rendering="crispEdges"/><line x1="23.5" x2="23.5" y1="461.9" y2="470.5" stroke="#00bfff" stroke-width="1" shape-rendering="crispEdges"/><line x1="27.5" x2="27.5" y1="461.9" y2="470.5" stroke="#00bfff" stroke-width="1" shape-rendering="crispEdges"/><line x1="31.5" x2="31.5" y1="461.9" y2="470.5" stroke="#00bfff" stroke-width="1" shape-rendering="crispEdges"/><line x1="35.5" x2="35.5" y1="461.9" y2="471" stroke="#00bfff" stroke-width="1" shape-rendering="crispEdges"/><line x1="39.5" x2="39.5" y1="461.9" y2="472" stroke="#00bfff" stroke-width="1" shape-rendering="crispEdges"/><line x1="43.5" x2="43.5" y1="461.9" y2="472" stroke="#00bfff" stroke-width="1" shape-rendering="crispEdges"/><line x1="47.5" x2="47.5" y1="461.9" y2="472" stroke="#00bfff" stroke-width="1" shape-rendering="crispEdges"/><line x1="51.5" x2="51.5" y1="461.9" y2="472" stroke="#00bfff" stroke-width="1" shape-rendering="crispEdges"/><line x1="55.5" x2="55.5" y1="461.9" y2="472" stroke="#00bfff" stroke-width="1" shape-rendering="crispEdges"/><line x1="59.5" x2="59.5" y1="461.9" y2="472.8" stroke="#00bfff" stroke-width="1" shape-rendering="crispEdges"/><line x1="63.5" x2="63.5" y1="461.9" y2="472.8" stroke="#00bfff" stroke-width="1" shape-rendering="crispEdges"/><line x1="67.5" x2="67.5" y1="461.9" y2="472.8" stroke="#00bfff" stroke-width="1" shape-rendering="crispEdges"/><line x1="71.5" x2="71.5" y1="461.9" y2="472.8" stroke="#00bfff" stroke-width="1" shape-rendering="crispEdges"/><line x1="75.5" x2="75.5" y1="461.9" y2="472.8" stroke="#00bfff" stroke-width="1" shape-rendering="crispEdges"/><line x1="79.5" x2="79.5" y1="461.9" y2="472.8" stroke="#00bfff" stroke-width="1" shape-rendering="crispEdges"/><line x1="83.5" x2="83.5" y1="461.9" y2="472.8" stroke="#00bfff" stroke-width="1" shape-rendering="crispEdges"/><line x1="87.5" x2="87.5" y1="461.9" y2="472.8" stroke="#00bfff" stroke-width="1" shape-rendering="crispEdges"/><line x1="91.5" x2="91.5" y1="461.9" y2="472.8" stroke="#00bfff" stroke-width="1" shape-rendering="crispEdges"/><line x1="95.5" x2="95.5" y1="461.9" y2="472.8" stroke="#00bfff" stroke-width="1" shape-rendering="crispEdges"/><line x1="99.5" x2="99.5" y1="461.9" y2="472.8" stroke="#00bfff" stroke-width="1" shape-rendering="crispEdges"/><line x1="103.5" x2="103.5" y1="461.9" y2="472.8" stroke="#00bfff" stroke-width="1" shape-rendering="crispEdges"/><line x1="107.5" x2="107.5" y1="461.9" y2="472.8" stroke="#00bfff" stroke-width="1" shape-rendering="crispEdges"/><line x1="111.5" x2="111.5" y1="461.9" y2="472.8" stroke="#00bfff" stroke-width="1" shape-rendering="crispEdges"/><line x1="115.5" x2="115.5" y1="461.9" y2="472.8" stroke="#00bfff" stroke-width="1" shape-rendering="crispEdges"/><line x1="119.5" x2="119.5" y1="461.9" y2="472" stroke="#00bfff" stroke-width="1" shape-rendering="crispEdges"/><line x1="123.5" x2="123.5" y1="461.9" y2="467" stroke="#00bfff" stroke-width="1" shape-rendering="crispEdges"/><line x1="127.5" x2="127.5" y1="461.9" y2="466" stroke="#00bfff" stroke-width="1" shape-rendering="crispEdges"/><line x1="131.5" x2="131.5" y1="461.9" y2="465" stroke="#00bfff" stroke-width="1" shape-rendering="crispEdges"/><line x1="135.5" x2="135.5" y1="461.9" y2="462.8" stroke="#00bfff" stroke-width="1" shape-rendering="crispEdges"/><line x1="139.5" x2="139.5" y1="461.9" y2="462" stroke="#00bfff" stroke-width="1" shape-rendering="crispEdges"/><line x1="143.5" x2="143.5" y1="461.9" y2="462" stroke="#00bfff" stroke-width="1" shape-rendering="crispEdges"/><line x1="147.5" x2="147.5" y1="461.9" y2="462" stroke="#00bfff" stroke-width="1" shape-rendering="crispEdges"/><line x1="151.5" x2="151.5" y1="461.9" y2="462" stroke="#00bfff" stroke-width="1" shape-rendering="crispEdges"/><line x1="155.5" x2="155.5" y1="461.9" y2="462" stroke="#00bfff" stroke-width="1" shape-rendering="crispEdges"/><line x1="159.5" x2="159.5" y1="461.9" y2="462.3" stroke="#00bfff" stroke-width="1" shape-rendering="crispEdges"/><line x1="163.5" x2="163.5" y1="461.9" y2="462.3" stroke="#00bfff" stroke-width="1" shape-rendering="crispEdges"/><line x1="167.5" x2="167.5" y1="461.9" y2="462.3" stroke="#00bfff" stroke-width="1" shape-rendering="crispEdges"/><line x1="171.5" x2="171.5" y1="461.9" y2="462.3" stroke="#00bfff" stroke-width="1" shape-rendering="crispEdges"/><line x1="175.5" x2="175.5" y1="461.9" y2="462.3" stroke="#00bfff" stroke-width="1" shape-rendering="crispEdges"/><line x1="179.5" x2="179.5" y1="461.9" y2="462.6" stroke="#00bfff" stroke-width="1" shape-rendering="crispEdges"/><line x1="183.5" x2="183.5" y1="461.9" y2="462.6" stroke="#00bfff" stroke-width="1" shape-rendering="crispEdges"/><line x1="187.5" x2="187.5" y1="461.9" y2="462.6" stroke="#00bfff" stroke-width="1" shape-rendering="crispEdges"/><line x1="191.5" x2="191.5" y1="461.9" y2="462.6" stroke="#00bfff" stroke-width="1" shape-rendering="crispEdges"/><line x1="195.5" x2="195.5" y1="461.9" y2="462.2" stroke="#00bfff" stroke-width="1" shape-rendering="crispEdges"/><line x1="199.5" x2="199.5" y1="460.6" y2="461.9" stroke="#00bfff" stroke-width="1" shape-rendering="crispEdges"/><line x1="203.5" x2="203.5" y1="459" y2="461.9" stroke="#00bfff" stroke-width="1" shape-rendering="crispEdges"/><line x1="207.5" x2="207.5" y1="459" y2="461.9" stroke="#00bfff" stroke-width="1" shape-rendering="crispEdges"/><line x1="211.5" x2="211.5" y1="459" y2="461.9" stroke="#00bfff" stroke-width="1" shape-rendering="crispEdges"/><line x1="215.5" x2="215.5" y1="458.5" y2="461.9" stroke="#00bfff" stroke-width="1" shape-rendering="crispEdges"/><line x1="219.5" x2="219.5" y1="458" y2="461.9" stroke="#00bfff" stroke-width="1" shape-rendering="crispEdges"/><line x1="223.5" x2="223.5" y1="457" y2="461.9" stroke="#00bfff" stroke-width="1" shape-rendering="crispEdges"/><line x1="227.5" x2="227.5" y1="457" y2="461.9" stroke="#00bfff" stroke-width="1" shape-rendering="crispEdges"/><line x1="231.5" x2="231.5" y1="458" y2="461.9" stroke="#00bfff" stroke-width="1" shape-rendering="crispEdges"/><line x1="235.5" x2="235.5" y1="459" y2="461.9" stroke="#00bfff" stroke-width="1" shape-rendering="crispEdges"/><line x1="239.5" x2="239.5" y1="459" y2="461.9" stroke="#00bfff" stroke-width="1" shape-rendering="crispEdges"/><line x1="243.5" x2="243.5" y1="457.4" y2="461.9" stroke="#00bfff" stroke-width="1" shape-rendering="crispEdges"/><line x1="247.5" x2="247.5" y1="453.1" y2="461.9" stroke="#00bfff" stroke-width="1" shape-rendering="crispEdges"/><line x1="251.5" x2="251.5" y1="449.2" y2="461.9" stroke="#00bfff" stroke-width="1" shape-rendering="crispEdges"/><line x1="255.5" x2="255.5" y1="445.9" y2="461.9" stroke="#00bfff" stroke-width="1" shape-rendering="crispEdges"/><line x1="259.5" x2="259.5" y1="444.2" y2="461.9" stroke="#00bfff" stroke-width="1" shape-rendering="crispEdges"/><line x1="263.5" x2="263.5" y1="442" y2="461.9" stroke="#00bfff" stroke-width="1" shape-rendering="crispEdges"/><line x1="267.5" x2="267.5" y1="440.3" y2="461.9" stroke="#00bfff" stroke-width="1" shape-rendering="crispEdges"/><line x1="271.5" x2="271.5" y1="439.9" y2="461.9" stroke="#00bfff" stroke-width="1" shape-rendering="crispEdges"/><line x1="275.5" x2="275.5" y1="439.1" y2="461.9" stroke="#00bfff" stroke-width="1" shape-rendering="crispEdges"/><line x1="279.5" x2="279.5" y1="439.1" y2="461.9" stroke="#00bfff" stroke-width="1" shape-rendering="crispEdges"/><line x1="283.5" x2="283.5" y1="438.1" y2="461.9" stroke="#00bfff" stroke-width="1" shape-rendering="crispEdges"/><line x1="287.5" x2="287.5" y1="438.1" y2="461.9" stroke="#00bfff" stroke-width="1" shape-rendering="crispEdges"/><line x1="291.5" x2="291.5" y1="439.4" y2="461.9" stroke="#00bfff" stroke-width="1" shape-rendering="crispEdges"/><line x1="295.5" x2="295.5" y1="441.1" y2="461.9" stroke="#00bfff" stroke-width="1" shape-rendering="crispEdges"/><line x1="299.5" x2="299.5" y1="442.9" y2="461.9" stroke="#00bfff" stroke-width="1" shape-rendering="crispEdges"/><line x1="303.5" x2="303.5" y1="444.9" y2="461.9" stroke="#00bfff" stroke-width="1" shape-rendering="crispEdges"/><line x1="307.5" x2="307.5" y1="448" y2="461.9" stroke="#00bfff" stroke-width="1" shape-rendering="crispEdges"/><line x1="311.5" x2="311.5" y1="449.2" y2="461.9" stroke="#00bfff" stroke-width="1" shape-rendering="crispEdges"/><line x1="315.5" x2="315.5" y1="449.2" y2="461.9" stroke="#00bfff" stroke-width="1" shape-rendering="crispEdges"/><line x1="319.5" x2="319.5" y1="450.1" y2="461.9" stroke="#00bfff" stroke-width="1" shape-rendering="crispEdges"/><line x1="323.5" x2="323.5" y1="451.1" y2="461.9" stroke="#00bfff" stroke-width="1" shape-rendering="crispEdges"/><line x1="327.5" x2="327.5" y1="450.6" y2="461.9" stroke="#00bfff" stroke-width="1" shape-rendering="crispEdges"/><line x1="331.5" x2="331.5" y1="449.2" y2="461.9" stroke="#00bfff" stroke-width="1" shape-rendering="crispEdges"/><line x1="335.5" x2="335.5" y1="448.3" y2="461.9" stroke="#00bfff" stroke-width="1" shape-rendering="crispEdges"/><line x1="339.5" x2="339.5" y1="448.3" y2="461.9" stroke="#00bfff" stroke-width="1" shape-rendering="crispEdges"/><line x1="343.5" x2="343.5" y1="448" y2="461.9" stroke="#00bfff" stroke-width="1" shape-rendering="crispEdges"/><line x1="347.5" x2="347.5" y1="447.7" y2="461.9" stroke="#00bfff" stroke-width="1" shape-rendering="crispEdges"/><line x1="351.5" x2="351.5" y1="444.9" y2="461.9" stroke="#00bfff" stroke-width="1" shape-rendering="crispEdges"/><line x1="355.5" x2="355.5" y1="439.9" y2="461.9" stroke="#00bfff" stroke-width="1" shape-rendering="crispEdges"/><line x1="359.5" x2="359.5" y1="436.9" y2="461.9" stroke="#00bfff" stroke-width="1" shape-rendering="crispEdges"/><line x1="363.5" x2="363.5" y1="436" y2="461.9" stroke="#00bfff" stroke-width="1" shape-rendering="crispEdges"/><line x1="367.5" x2="367.5" y1="432.9" y2="461.9" stroke="#00bfff" stroke-width="1" shape-rendering="crispEdges"/><line x1="371.5" x2="371.5" y1="432.1" y2="461.9" stroke="#00bfff" stroke-width="1" shape-rendering="crispEdges"/><line x1="375.5" x2="375.5" y1="431.2" y2="461.9" stroke="#00bfff" stroke-width="1" shape-rendering="crispEdges"/><line x1="379.5" x2="379.5" y1="429.1" y2="461.9" stroke="#00bfff" stroke-width="1" shape-rendering="crispEdges"/><line x1="383.5" x2="383.5" y1="429.1" y2="461.9" stroke="#00bfff" stroke-width="1" shape-rendering="crispEdges"/><line x1="387.5" x2="387.5" y1="431.2" y2="461.9" stroke="#00bfff" stroke-width="1" shape-rendering="crispEdges"/><line x1="391.5" x2="391.5" y1="432.2" y2="461.9" stroke="#00bfff" stroke-width="1" shape-rendering="crispEdges"/><line x1="395.5" x2="395.5" y1="433.1" y2="461.9" stroke="#00bfff" stroke-width="1" shape-rendering="crispEdges"/><line x1="399.5" x2="399.5" y1="434.3" y2="461.9" stroke="#00bfff" stroke-width="1" shape-rendering="crispEdges"/><line x1="403.5" x2="403.5" y1="435.1" y2="461.9" stroke="#00bfff" stroke-width="1" shape-rendering="crispEdges"/><line x1="407.5" x2="407.5" y1="437.2" y2="461.9" stroke="#00bfff" stroke-width="1" shape-rendering="crispEdges"/><line x1="411.5" x2="411.5" y1="440.3" y2="461.9" stroke="#00bfff" stroke-width="1" shape-rendering="crispEdges"/><line x1="415.5" x2="415.5" y1="442" y2="461.9" stroke="#00bfff" stroke-width="1" shape-rendering="crispEdges"/><line x1="419.5" x2="419.5" y1="443.2" y2="461.9" stroke="#00bfff" stroke-width="1" shape-rendering="crispEdges"/><line x1="423.5" x2="423.5" y1="444.2" y2="461.9" stroke="#00bfff" stroke-width="1" shape-rendering="crispEdges"/><line x1="427.5" x2="427.5" y1="446.3" y2="461.9" stroke="#00bfff" stroke-width="1" shape-rendering="crispEdges"/><line x1="431.5" x2="431.5" y1="448.3" y2="461.9" stroke="#00bfff" stroke-width="1" shape-rendering="crispEdges"/><line x1="435.5" x2="435.5" y1="450.1" y2="461.9" stroke="#00bfff" stroke-width="1" shape-rendering="crispEdges"/><line x1="439.5" x2="439.5" y1="454" y2="461.9" stroke="#00bfff" stroke-width="1" shape-rendering="crispEdges"/><line x1="443.5" x2="443.5" y1="456.1" y2="461.9" stroke="#00bfff" stroke-width="1" shape-rendering="crispEdges"/><line x1="447.5" x2="447.5" y1="457.9" y2="461.9" stroke="#00bfff" stroke-width="1" shape-rendering="crispEdges"/><line x1="451.5" x2="451.5" y1="459.1" y2="461.9" stroke="#00bfff" stroke-width="1" shape-rendering="crispEdges"/><line x1="455.5" x2="455.5" y1="460" y2="461.9" stroke="#00bfff" stroke-width="1" shape-rendering="crispEdges"/><line x1="459.5" x2="459.5" y1="460" y2="461.9" stroke="#00bfff" stroke-width="1" shape-rendering="crispEdges"/><line x1="463.5" x2="463.5" y1="459.1" y2="461.9" stroke="#00bfff" stroke-width="1" shape-rendering="crispEdges"/><line x1="467.5" x2="467.5" y1="457.9" y2="461.9" stroke="#00bfff" stroke-width="1" shape-rendering="crispEdges"/><line x1="471.5" x2="471.5" y1="457.4" y2="461.9" stroke="#00bfff" stroke-width="1" shape-rendering="crispEdges"/><line x1="475.5" x2="475.5" y1="456.9" y2="461.9" stroke="#00bfff" stroke-width="1" shape-rendering="crispEdges"/><line x1="479.5" x2="479.5" y1="455.2" y2="461.9" stroke="#00bfff" stroke-width="1" shape-rendering="crispEdges"/><line x1="483.5" x2="483.5" y1="455.2" y2="461.9" stroke="#00bfff" stroke-width="1" shape-rendering="crispEdges"/><line x1="487.5" x2="487.5" y1="456.2" y2="461.9" stroke="#00bfff" stroke-width="1" shape-rendering="crispEdges"/><line x1="491.5" x2="491.5" y1="455.4" y2="461.9" stroke="#00bfff" stroke-width="1" shape-rendering="crispEdges"/><line x1="495.5" x2="495.5" y1="455.2" y2="461.9" stroke="#00bfff" stroke-width="1" shape-rendering="crispEdges"/><line x1="499.5" x2="499.5" y1="454.3" y2="461.9" stroke="#00bfff" stroke-width="1" shape-rendering="crispEdges"/><line x1="503.5" x2="503.5" y1="454" y2="461.9" stroke="#00bfff" stroke-width="1" shape-rendering="crispEdges"/><line x1="507.5" x2="507.5" y1="453.1" y2="461.9" stroke="#00bfff" stroke-width="1" shape-rendering="crispEdges"/><line x1="511.5" x2="511.5" y1="453.1" y2="461.9" stroke="#00bfff" stroke-width="1" shape-rendering="crispEdges"/><line x1="515.5" x2="515.5" y1="453.1" y2="461.9" stroke="#00bfff" stroke-width="1" shape-rendering="crispEdges"/><line x1="519.5" x2="519.5" y1="453.1" y2="461.9" stroke="#00bfff" stroke-width="1" shape-rendering="crispEdges"/><line x1="523.5" x2="523.5" y1="453.1" y2="461.9" stroke="#00bfff" stroke-width="1" shape-rendering="crispEdges"/><line x1="527.5" x2="527.5" y1="451.9" y2="461.9" stroke="#00bfff" stroke-width="1" shape-rendering="crispEdges"/><line x1="531.5" x2="531.5" y1="450.1" y2="461.9" stroke="#00bfff" stroke-width="1" shape-rendering="crispEdges"/><line x1="535.5" x2="535.5" y1="449.2" y2="461.9" stroke="#00bfff" stroke-width="1" shape-rendering="crispEdges"/><line x1="539.5" x2="539.5" y1="448" y2="461.9" stroke="#00bfff" stroke-width="1" shape-rendering="crispEdges"/><line x1="543.5" x2="543.5" y1="449.2" y2="461.9" stroke="#00bfff" stroke-width="1" shape-rendering="crispEdges"/><line x1="547.5" x2="547.5" y1="450.1" y2="461.9" stroke="#00bfff" stroke-width="1" shape-rendering="crispEdges"/><line x1="551.5" x2="551.5" y1="450.1" y2="461.9" stroke="#00bfff" stroke-width="1" shape-rendering="crispEdges"/><line x1="555.5" x2="555.5" y1="450.1" y2="461.9" stroke="#00bfff" stroke-width="1" shape-rendering="crispEdges"/><line x1="559.5" x2="559.5" y1="449.4" y2="461.9" stroke="#00bfff" stroke-width="1" shape-rendering="crispEdges"/><line x1="563.5" x2="563.5" y1="449.2" y2="461.9" stroke="#00bfff" stroke-width="1" shape-rendering="crispEdges"/><line x1="567.5" x2="567.5" y1="448" y2="461.9" stroke="#00bfff" stroke-width="1" shape-rendering="crispEdges"/><line x1="571.5" x2="571.5" y1="447.1" y2="461.9" stroke="#00bfff" stroke-width="1" shape-rendering="crispEdges"/><line x1="575.5" x2="575.5" y1="446.3" y2="461.9" stroke="#00bfff" stroke-width="1" shape-rendering="crispEdges"/><line x1="579.5" x2="579.5" y1="444.2" y2="461.9" stroke="#00bfff" stroke-width="1" shape-rendering="crispEdges"/><line x1="583.5" x2="583.5" y1="443.2" y2="461.9" stroke="#00bfff" stroke-width="1" shape-rendering="crispEdges"/><line x1="587.5" x2="587.5" y1="442" y2="461.9" stroke="#00bfff" stroke-width="1" shape-rendering="crispEdges"/><line x1="591.5" x2="591.5" y1="442" y2="461.9" stroke="#00bfff" stroke-width="1" shape-rendering="crispEdges"/><line x1="595.5" x2="595.5" y1="442" y2="461.9" stroke="#00bfff" stroke-width="1" shape-rendering="crispEdges"/><line x1="599.5" x2="599.5" y1="442.5" y2="461.9" stroke="#00bfff" stroke-width="1" shape-rendering="crispEdges"/><line x1="603.5" x2="603.5" y1="444.2" y2="461.9" stroke="#00bfff" stroke-width="1" shape-rendering="crispEdges"/><line x1="607.5" x2="607.5" y1="445.4" y2="461.9" stroke="#00bfff" stroke-width="1" shape-rendering="crispEdges"/><line x1="611.5" x2="611.5" y1="447.1" y2="461.9" stroke="#00bfff" stroke-width="1" shape-rendering="crispEdges"/><line x1="615.5" x2="615.5" y1="449" y2="461.9" stroke="#00bfff" stroke-width="1" shape-rendering="crispEdges"/><line x1="619.5" x2="619.5" y1="450.1" y2="461.9" stroke="#00bfff" stroke-width="1" shape-rendering="crispEdges"/><line x1="623.5" x2="623.5" y1="452.3" y2="461.9" stroke="#00bfff" stroke-width="1" shape-rendering="crispEdges"/><line x1="627.5" x2="627.5" y1="453.5" y2="461.9" stroke="#00bfff" stroke-width="1" shape-rendering="crispEdges"/><line x1="631.5" x2="631.5" y1="455.2" y2="461.9" stroke="#00bfff" stroke-width="1" shape-rendering="crispEdges"/>
<polyline points="3.0,476.5 5.0,475.5 10.0,474.5 20.0,473.0 30.0,471.5 40.0,471.0 50.0,471.0 60.0,471.5 80.0,472.0 100.0,472.5 115.0,472.3 120.0,473.0 123.5,472.5 130.0,470.5 137.0,469.0 142.0,467.0 147.0,465.0 151.0,464.0 155.0,463.5 160.0,462.5 165.0,462.0 170.0,461.5 175.0,461.5 180.0,462.0 190.0,462.5 197.0,462.0 205.0,461.5 210.0,460.5 215.0,460.0 220.0,459.5 225.0,459.0 230.0,458.5 235.0,458.5 240.0,458.5 243.0,457.5 247.0,457.0 251.0,456.5 255.0,455.0 260.0,452.5 265.0,450.0 270.0,448.0 275.0,445.5 280.0,443.0 285.0,441.0 290.0,440.0 295.0,439.5 300.0,439.3 305.0,439.3 308.0,439.5 311.0,441.0 315.0,442.5 319.0,444.0 323.0,445.5 327.0,447.0 331.0,447.5 335.0,448.2 340.0,448.5 345.0,448.5 350.0,448.3 353.0,447.5 356.0,446.5 360.0,444.5 364.0,443.0 368.0,441.5 372.0,440.0 376.0,438.5 380.0,436.5 384.0,434.5 388.0,432.5 392.0,431.5 396.0,431.0 400.0,430.7 405.0,431.0 410.0,431.5 414.0,433.0 418.0,435.0 422.0,436.5 426.0,437.5 430.0,439.5 434.0,441.5 438.0,443.5 442.0,445.5 446.0,447.5 450.0,449.5 454.0,451.5 458.0,453.5 462.0,454.5 466.0,456.0 470.0,457.0 475.0,457.3 480.0,457.2 483.0,457.2 490.0,456.5 496.0,455.5 502.0,454.5 508.0,453.8 514.0,453.5 520.0,453.5 526.0,452.5 532.0,451.5 538.0,451.0 544.0,450.3 550.0,450.3 556.0,449.5 562.0,449.5 568.0,448.8 574.0,448.0 580.0,447.3 586.0,446.5 592.0,445.5 597.0,444.0 603.0,443.2 609.0,443.0 613.0,442.3 618.0,443.0 623.0,444.5 628.0,446.0 632.0,447.0" fill="none" stroke="#ff0000" stroke-width="1" stroke-dasharray="2.7,3.3" shape-rendering="crispEdges" />
<line x1="175.5" x2="175.5" y1="424" y2="479" stroke="#ff0000" stroke-width="1.3"/>
<line x1="615.5" x2="615.5" y1="424" y2="479" stroke="#ff0000" stroke-width="1.3"/>
</g>
<text transform="translate(7.6,437.1) scale(0.879,1)" font-size="10.6" fill="#000"  font-family="Liberation Sans, sans-serif">MACD(12,26,9) 0.00380 0.00734</text>
<path d="M2.5 371.5 V2.5 H659.5 M2.5 371.5 H659.5 M659.5 2.5 V371.5" fill="none" stroke="#000" stroke-width="1" shape-rendering="crispEdges"/>
<path d="M2.5 422.5 V373.5 H659.5 M2.5 422.5 H659.5 M659.5 373.5 V422.5" fill="none" stroke="#000" stroke-width="1" shape-rendering="crispEdges"/>
<path d="M2.5 479.5 V424.5 H659.5 M2.5 479.5 H659.5 M659.5 424.5 V479.5" fill="none" stroke="#000" stroke-width="1" shape-rendering="crispEdges"/>
<line x1="659" x2="662" y1="5" y2="5" stroke="#000" stroke-width="1"/>
<text x="665.6" y="8.3" font-size="10" textLength="27.4" lengthAdjust="spacingAndGlyphs" fill="#000" font-family="Liberation Sans, sans-serif">1.2210</text>
<line x1="659" x2="662" y1="38" y2="38" stroke="#000" stroke-width="1"/>
<text x="665.6" y="41.3" font-size="10" textLength="27.4" lengthAdjust="spacingAndGlyphs" fill="#000" font-family="Liberation Sans, sans-serif">1.1995</text>
<line x1="659" x2="662" y1="71" y2="71" stroke="#000" stroke-width="1"/>
<text x="665.6" y="74.3" font-size="10" textLength="27.4" lengthAdjust="spacingAndGlyphs" fill="#000" font-family="Liberation Sans, sans-serif">1.1785</text>
<line x1="659" x2="662" y1="104" y2="104" stroke="#000" stroke-width="1"/>
<text x="665.6" y="107.3" font-size="10" textLength="27.4" lengthAdjust="spacingAndGlyphs" fill="#000" font-family="Liberation Sans, sans-serif">1.1570</text>
<line x1="659" x2="662" y1="137" y2="137" stroke="#000" stroke-width="1"/>
<text x="665.6" y="140.3" font-size="10" textLength="27.4" lengthAdjust="spacingAndGlyphs" fill="#000" font-family="Liberation Sans, sans-serif">1.1355</text>
<line x1="659" x2="662" y1="170" y2="170" stroke="#000" stroke-width="1"/>
<text x="665.6" y="173.3" font-size="10" textLength="27.4" lengthAdjust="spacingAndGlyphs" fill="#000" font-family="Liberation Sans, sans-serif">1.1145</text>
<line x1="659" x2="662" y1="203" y2="203" stroke="#000" stroke-width="1"/>
<text x="665.6" y="206.3" font-size="10" textLength="27.4" lengthAdjust="spacingAndGlyphs" fill="#000" font-family="Liberation Sans, sans-serif">1.0930</text>
<line x1="659" x2="662" y1="236" y2="236" stroke="#000" stroke-width="1"/>
<text x="665.6" y="239.3" font-size="10" textLength="27.4" lengthAdjust="spacingAndGlyphs" fill="#000" font-family="Liberation Sans, sans-serif">1.0720</text>
<line x1="659" x2="662" y1="269" y2="269" stroke="#000" stroke-width="1"/>
<text x="665.6" y="272.3" font-size="10" textLength="27.4" lengthAdjust="spacingAndGlyphs" fill="#000" font-family="Liberation Sans, sans-serif">1.0505</text>
<line x1="659" x2="662" y1="302.5" y2="302.5" stroke="#000" stroke-width="1"/>
<text x="665.6" y="305.8" font-size="10" textLength="27.4" lengthAdjust="spacingAndGlyphs" fill="#000" font-family="Liberation Sans, sans-serif">1.0290</text>
<line x1="659" x2="662" y1="335.5" y2="335.5" stroke="#000" stroke-width="1"/>
<text x="665.6" y="338.8" font-size="10" textLength="27.4" lengthAdjust="spacingAndGlyphs" fill="#000" font-family="Liberation Sans, sans-serif">1.0080</text>
<line x1="659" x2="662" y1="368.5" y2="368.5" stroke="#000" stroke-width="1"/>
<text x="665.6" y="371.8" font-size="10" textLength="27.4" lengthAdjust="spacingAndGlyphs" fill="#000" font-family="Liberation Sans, sans-serif">0.9865</text>
<rect x="661" y="0" width="36.5" height="11" fill="#ff0000"/><text x="665.8" y="8.8" font-size="10" textLength="27.2" lengthAdjust="spacingAndGlyphs" fill="#fff" stroke="#fff" stroke-width="0.15" font-family="Liberation Sans, sans-serif">1.2207</text>
<rect x="661" y="37" width="36.5" height="11" fill="#ff00ff"/><text x="665.8" y="45.7" font-size="10" textLength="27.2" lengthAdjust="spacingAndGlyphs" fill="#fff" stroke="#fff" stroke-width="0.15" font-family="Liberation Sans, sans-serif">1.1963</text>
<rect x="661" y="56" width="36.5" height="11" fill="#ffc0cb"/><text x="665.8" y="64.7" font-size="10" textLength="27.2" lengthAdjust="spacingAndGlyphs" fill="#fff" stroke="#fff" stroke-width="0.15" font-family="Liberation Sans, sans-serif">1.1841</text>
<rect x="661" y="75" width="36.5" height="11" fill="#0000ff"/><text x="665.8" y="83.7" font-size="10" textLength="27.2" lengthAdjust="spacingAndGlyphs" fill="#fff" stroke="#fff" stroke-width="0.15" font-family="Liberation Sans, sans-serif">1.1719</text>
<rect x="661" y="94" width="36.5" height="11" fill="#ffa500"/><text x="665.8" y="102.7" font-size="10" textLength="27.2" lengthAdjust="spacingAndGlyphs" fill="#fff" stroke="#fff" stroke-width="0.15" font-family="Liberation Sans, sans-serif">1.1597</text>
<rect x="661" y="113" width="36.5" height="11" fill="#ff0000"/><text x="665.8" y="121.7" font-size="10" textLength="27.2" lengthAdjust="spacingAndGlyphs" fill="#fff" stroke="#fff" stroke-width="0.15" font-family="Liberation Sans, sans-serif">1.1475</text>
<rect x="661" y="132" width="36.5" height="11" fill="#6b8e23"/><text x="665.8" y="140.7" font-size="10" textLength="27.2" lengthAdjust="spacingAndGlyphs" fill="#fff" stroke="#fff" stroke-width="0.15" font-family="Liberation Sans, sans-serif">1.1353</text>
<rect x="661" y="151" width="36.5" height="11" fill="#0000ff"/><text x="665.8" y="159.7" font-size="10" textLength="27.2" lengthAdjust="spacingAndGlyphs" fill="#fff" stroke="#fff" stroke-width="0.15" font-family="Liberation Sans, sans-serif">1.1230</text>
<rect x="661" y="170" width="36.5" height="11" fill="#6b8e23"/><text x="665.8" y="178.7" font-size="10" textLength="27.2" lengthAdjust="spacingAndGlyphs" fill="#fff" stroke="#fff" stroke-width="0.15" font-family="Liberation Sans, sans-serif">1.1108</text>
<rect x="661" y="189" width="36.5" height="11" fill="#ff0000"/><text x="665.8" y="197.7" font-size="10" textLength="27.2" lengthAdjust="spacingAndGlyphs" fill="#fff" stroke="#fff" stroke-width="0.15" font-family="Liberation Sans, sans-serif">1.0986</text>
<rect x="661" y="207" width="36.5" height="11" fill="#ffa500"/><text x="665.8" y="215.7" font-size="10" textLength="27.2" lengthAdjust="spacingAndGlyphs" fill="#fff" stroke="#fff" stroke-width="0.15" font-family="Liberation Sans, sans-serif">1.0864</text>
<rect x="661" y="226" width="36.5" height="11" fill="#0000ff"/><text x="665.8" y="234.7" font-size="10" textLength="27.2" lengthAdjust="spacingAndGlyphs" fill="#fff" stroke="#fff" stroke-width="0.15" font-family="Liberation Sans, sans-serif">1.0742</text>
<rect x="661" y="245" width="36.5" height="11" fill="#ffc0cb"/><text x="665.8" y="253.7" font-size="10" textLength="27.2" lengthAdjust="spacingAndGlyphs" fill="#fff" stroke="#fff" stroke-width="0.15" font-family="Liberation Sans, sans-serif">1.0620</text>
<rect x="661" y="264" width="36.5" height="11" fill="#ff00ff"/><text x="665.8" y="272.7" font-size="10" textLength="27.2" lengthAdjust="spacingAndGlyphs" fill="#fff" stroke="#fff" stroke-width="0.15" font-family="Liberation Sans, sans-serif">1.0498</text>
<text transform="translate(663.4,384.0) scale(0.88,1)" font-size="10" fill="#000"  font-family="Liberation Sans, sans-serif">100</text>
<text transform="translate(663.4,387.7) scale(0.88,1)" font-size="10" fill="#000"  font-family="Liberation Sans, sans-serif">80</text>
<text transform="translate(663.4,416.0) scale(0.88,1)" font-size="10" fill="#000"  font-family="Liberation Sans, sans-serif">20</text>
<text transform="translate(663.4,419.1) scale(0.88,1)" font-size="10" fill="#000"  font-family="Liberation Sans, sans-serif">0</text>
<path d="M660 375.5 H662 M660 421.5 H662 M660 426.5 H662 M660 461.5 H662" fill="none" stroke="#000" stroke-width="1" shape-rendering="crispEdges"/>
<text transform="translate(663.5,435.0) scale(0.88,1)" font-size="10" fill="#000"  font-family="Liberation Sans, sans-serif">0.01957</text>
<text transform="translate(663.5,464.8) scale(0.88,1)" font-size="10" fill="#000"  font-family="Liberation Sans, sans-serif">0.00</text>
<text transform="translate(663.5,476.2) scale(0.88,1)" font-size="10" fill="#000"  font-family="Liberation Sans, sans-serif">-0.00968</text>
<line x1="3.5" x2="3.5" y1="479" y2="483" stroke="#000" stroke-width="1"/>
<text transform="translate(2.7,492.2) scale(0.82,1)" font-size="11" fill="#000"  font-family="Liberation Sans, sans-serif">6 Dec 2024</text>
<line x1="67.5" x2="67.5" y1="479" y2="483" stroke="#000" stroke-width="1"/>
<text transform="translate(66.7,492.2) scale(0.82,1)" font-size="11" fill="#000"  font-family="Liberation Sans, sans-serif">31 Dec 2024</text>
<line x1="131.5" x2="131.5" y1="479" y2="483" stroke="#000" stroke-width="1"/>
<text transform="translate(130.7,492.2) scale(0.82,1)" font-size="11" fill="#000"  font-family="Liberation Sans, sans-serif">23 Jan 2025</text>
<line x1="195.5" x2="195.5" y1="479" y2="483" stroke="#000" stroke-width="1"/>
<text transform="translate(194.7,492.2) scale(0.82,1)" font-size="11" fill="#000"  font-family="Liberation Sans, sans-serif">17 Feb 2025</text>
<line x1="259.5" x2="259.5" y1="479" y2="483" stroke="#000" stroke-width="1"/>
<text transform="translate(258.7,492.2) scale(0.82,1)" font-size="11" fill="#000"  font-family="Liberation Sans, sans-serif">10 Mar 2025</text>
<line x1="323.5" x2="323.5" y1="479" y2="483" stroke="#000" stroke-width="1"/>
<text transform="translate(322.7,492.2) scale(0.82,1)" font-size="11" fill="#000"  font-family="Liberation Sans, sans-serif">1 Apr 2025</text>
<line x1="387.5" x2="387.5" y1="479" y2="483" stroke="#000" stroke-width="1"/>
<text transform="translate(386.7,492.2) scale(0.82,1)" font-size="11" fill="#000"  font-family="Liberation Sans, sans-serif">23 Apr 2025</text>
<line x1="451.5" x2="451.5" y1="479" y2="483" stroke="#000" stroke-width="1"/>
<text transform="translate(450.7,492.2) scale(0.82,1)" font-size="11" fill="#000"  font-family="Liberation Sans, sans-serif">15 May 2025</text>
<line x1="515.5" x2="515.5" y1="479" y2="483" stroke="#000" stroke-width="1"/>
<text transform="translate(514.7,492.2) scale(0.82,1)" font-size="11" fill="#000"  font-family="Liberation Sans, sans-serif">6 Jun 2025</text>
<line x1="579.5" x2="579.5" y1="479" y2="483" stroke="#000" stroke-width="1"/>
<text transform="translate(578.7,492.2) scale(0.82,1)" font-size="11" fill="#000"  font-family="Liberation Sans, sans-serif">30 Jun 2025</text>
<rect x="134.3" y="483" width="80" height="10.5" fill="#ff0000"/><text x="139.2" y="491.8" font-size="10.8" stroke="#fff" stroke-width="0.15" textLength="71.6" lengthAdjust="spacingAndGlyphs" fill="#fff" font-family="Liberation Sans, sans-serif">2025.02.07 00:00</text>
<rect x="575" y="483" width="80" height="10.5" fill="#ff0000"/><text x="579.4" y="491.8" font-size="10.8" stroke="#fff" stroke-width="0.15" textLength="71.4" lengthAdjust="spacingAndGlyphs" fill="#fff" font-family="Liberation Sans, sans-serif">2025.07.11 00:00</text>
</svg></body></html>
